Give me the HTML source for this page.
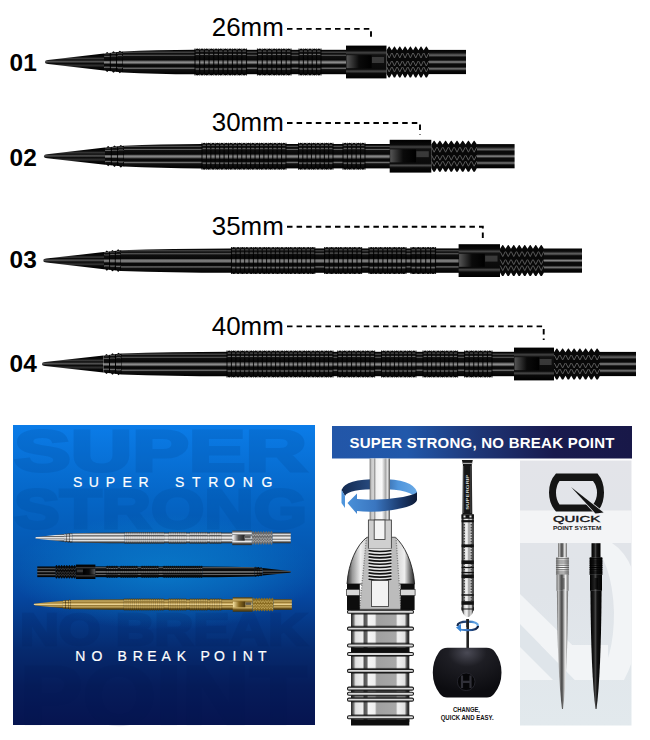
<!DOCTYPE html>
<html><head><meta charset="utf-8"><style>
html,body{margin:0;padding:0;background:#fff;}
#root{position:relative;width:650px;height:740px;overflow:hidden;background:#fff;font-family:"Liberation Sans",sans-serif;}
svg{position:absolute;left:0;top:0;display:block;}
text{font-family:"Liberation Sans",sans-serif;}
</style></head><body><div id="root">
<svg width="650" height="740" viewBox="0 0 650 740"><defs><linearGradient id="gBlk" x1="0" y1="0" x2="0" y2="1"><stop offset="0" stop-color="#000"/><stop offset="0.05" stop-color="#0a0a0a"/><stop offset="0.1" stop-color="#505050"/><stop offset="0.14" stop-color="#0d0d0d"/><stop offset="0.19" stop-color="#1a1a1a"/><stop offset="0.22" stop-color="#6a6a6a"/><stop offset="0.26" stop-color="#101010"/><stop offset="0.42" stop-color="#080808"/><stop offset="0.46" stop-color="#606060"/><stop offset="0.52" stop-color="#8a8a8a"/><stop offset="0.57" stop-color="#505050"/><stop offset="0.61" stop-color="#080808"/><stop offset="0.7" stop-color="#0a0a0a"/><stop offset="0.76" stop-color="#707070"/><stop offset="0.81" stop-color="#111"/><stop offset="0.9" stop-color="#0a0a0a"/><stop offset="1" stop-color="#000"/></linearGradient>
<linearGradient id="gCone" x1="0" y1="0" x2="0" y2="1"><stop offset="0" stop-color="#000"/><stop offset="0.2" stop-color="#0a0a0a"/><stop offset="0.3" stop-color="#3a3a3a"/><stop offset="0.38" stop-color="#0a0a0a"/><stop offset="0.48" stop-color="#555"/><stop offset="0.58" stop-color="#0a0a0a"/><stop offset="0.72" stop-color="#333"/><stop offset="0.8" stop-color="#0a0a0a"/><stop offset="1" stop-color="#000"/></linearGradient>
<linearGradient id="gCol" x1="0" y1="0" x2="0" y2="1"><stop offset="0" stop-color="#000"/><stop offset="0.15" stop-color="#0a0a0a"/><stop offset="0.22" stop-color="#444"/><stop offset="0.28" stop-color="#111"/><stop offset="0.72" stop-color="#0a0a0a"/><stop offset="0.78" stop-color="#4a4a4a"/><stop offset="0.85" stop-color="#0a0a0a"/><stop offset="1" stop-color="#000"/></linearGradient>
<linearGradient id="gWin" x1="0" y1="0" x2="1" y2="0"><stop offset="0" stop-color="#555"/><stop offset="0.5" stop-color="#0a0a0a"/><stop offset="1" stop-color="#000"/></linearGradient>
<linearGradient id="gShaft" x1="0" y1="0" x2="0" y2="1"><stop offset="0" stop-color="#000"/><stop offset="0.12" stop-color="#111"/><stop offset="0.22" stop-color="#666"/><stop offset="0.3" stop-color="#0a0a0a"/><stop offset="0.42" stop-color="#0a0a0a"/><stop offset="0.5" stop-color="#8a8a8a"/><stop offset="0.58" stop-color="#0a0a0a"/><stop offset="0.7" stop-color="#0a0a0a"/><stop offset="0.78" stop-color="#777"/><stop offset="0.86" stop-color="#0a0a0a"/><stop offset="1" stop-color="#000"/></linearGradient>
<linearGradient id="gSilH" x1="0" y1="0" x2="0" y2="1"><stop offset="0" stop-color="#333"/><stop offset="0.1" stop-color="#8a8a8a"/><stop offset="0.2" stop-color="#f0f0f0"/><stop offset="0.3" stop-color="#5a5a5a"/><stop offset="0.42" stop-color="#d8d8d8"/><stop offset="0.52" stop-color="#fff"/><stop offset="0.62" stop-color="#6a6a6a"/><stop offset="0.75" stop-color="#e8e8e8"/><stop offset="0.88" stop-color="#555"/><stop offset="1" stop-color="#222"/></linearGradient>
<linearGradient id="gGoldH" x1="0" y1="0" x2="0" y2="1"><stop offset="0" stop-color="#4a3810"/><stop offset="0.08" stop-color="#8a7030"/><stop offset="0.18" stop-color="#d8bc70"/><stop offset="0.28" stop-color="#8a6c28"/><stop offset="0.38" stop-color="#c4a458"/><stop offset="0.5" stop-color="#e8d090"/><stop offset="0.6" stop-color="#927530"/><stop offset="0.72" stop-color="#ccb068"/><stop offset="0.85" stop-color="#70561c"/><stop offset="1" stop-color="#3e300c"/></linearGradient>
<linearGradient id="gSilW" x1="0" y1="0" x2="1" y2="0"><stop offset="0" stop-color="#fff"/><stop offset="0.5" stop-color="#555"/><stop offset="1" stop-color="#222"/></linearGradient>
<linearGradient id="gGoldW" x1="0" y1="0" x2="1" y2="0"><stop offset="0" stop-color="#f5e0a0"/><stop offset="0.5" stop-color="#8a6a20"/><stop offset="1" stop-color="#4a360e"/></linearGradient>
<linearGradient id="gBlue" x1="0" y1="0" x2="0" y2="1">
<stop offset="0" stop-color="#0b7ce8"/><stop offset="0.25" stop-color="#0565c5"/><stop offset="0.42" stop-color="#0558b2"/>
<stop offset="0.57" stop-color="#0547a0"/><stop offset="0.75" stop-color="#062a6e"/><stop offset="0.87" stop-color="#061c5a"/><stop offset="1" stop-color="#061450"/></linearGradient>
<radialGradient id="gGlow" cx="0.5" cy="0.5" r="0.5"><stop offset="0" stop-color="#0a8cd8" stop-opacity="0.65"/><stop offset="0.55" stop-color="#0a8cd8" stop-opacity="0.35"/><stop offset="1" stop-color="#0a8cd8" stop-opacity="0"/></radialGradient>
<linearGradient id="gHdr" x1="0" y1="0" x2="1" y2="0">
<stop offset="0" stop-color="#2256a8"/><stop offset="0.25" stop-color="#2158aa"/><stop offset="0.48" stop-color="#1e3778"/><stop offset="0.74" stop-color="#191a4e"/><stop offset="1" stop-color="#181848"/></linearGradient>
<linearGradient id="gGray" x1="0" y1="0" x2="0" y2="1"><stop offset="0" stop-color="#e3e4e9"/><stop offset="0.5" stop-color="#e0e4e9"/><stop offset="1" stop-color="#e2e9ed"/></linearGradient>
<clipPath id="cGray"><rect x="520" y="460.5" width="111.5" height="265"/></clipPath>
<linearGradient id="gSil" x1="0" y1="0" x2="1" y2="0"><stop offset="0" stop-color="#666"/><stop offset="0.15" stop-color="#bbb"/><stop offset="0.3" stop-color="#777"/><stop offset="0.45" stop-color="#444"/><stop offset="0.6" stop-color="#999"/><stop offset="0.75" stop-color="#eee"/><stop offset="1" stop-color="#666"/></linearGradient>
<linearGradient id="gSilT" x1="0" y1="0" x2="1" y2="0"><stop offset="0" stop-color="#777"/><stop offset="0.3" stop-color="#eee"/><stop offset="0.6" stop-color="#fafafa"/><stop offset="1" stop-color="#888"/></linearGradient>
<linearGradient id="gBlkV" x1="0" y1="0" x2="1" y2="0"><stop offset="0" stop-color="#000"/><stop offset="0.3" stop-color="#1a1a1a"/><stop offset="0.45" stop-color="#444"/><stop offset="0.6" stop-color="#111"/><stop offset="1" stop-color="#000"/></linearGradient>
<linearGradient id="gRod" x1="0" y1="0" x2="1" y2="0"><stop offset="0" stop-color="#555"/><stop offset="0.06" stop-color="#bbb"/><stop offset="0.18" stop-color="#d8d8d8"/><stop offset="0.24" stop-color="#999"/><stop offset="0.32" stop-color="#f0f0f0"/><stop offset="0.6" stop-color="#fafafa"/><stop offset="0.7" stop-color="#ccc"/><stop offset="0.78" stop-color="#aaa"/><stop offset="0.88" stop-color="#e0e0e0"/><stop offset="1" stop-color="#555"/></linearGradient>
<linearGradient id="gArrBack" x1="0" y1="0" x2="1" y2="0"><stop offset="0" stop-color="#13294f"/><stop offset="0.45" stop-color="#2a4f86"/><stop offset="0.75" stop-color="#4f95dc"/><stop offset="1" stop-color="#6aaae6"/></linearGradient>
<linearGradient id="gArrFront" x1="0" y1="0" x2="1" y2="0"><stop offset="0" stop-color="#4a90d8"/><stop offset="0.4" stop-color="#3a76c0"/><stop offset="0.75" stop-color="#1c3c70"/><stop offset="1" stop-color="#0d1a36"/></linearGradient>
<linearGradient id="gBar" x1="0" y1="0" x2="1" y2="0"><stop offset="0" stop-color="#222"/><stop offset="0.04" stop-color="#666"/><stop offset="0.08" stop-color="#e0e0e0"/><stop offset="0.2" stop-color="#eee"/><stop offset="0.23" stop-color="#555"/><stop offset="0.27" stop-color="#666"/><stop offset="0.3" stop-color="#f5f5f5"/><stop offset="0.41" stop-color="#eee"/><stop offset="0.44" stop-color="#a0a0a0"/><stop offset="0.77" stop-color="#a8a8a8"/><stop offset="0.8" stop-color="#f2f2f2"/><stop offset="0.92" stop-color="#e0e0e0"/><stop offset="0.96" stop-color="#444"/><stop offset="1" stop-color="#222"/></linearGradient>
<linearGradient id="gNose" x1="0" y1="0" x2="1" y2="0"><stop offset="0" stop-color="#333"/><stop offset="0.08" stop-color="#999"/><stop offset="0.2" stop-color="#eee"/><stop offset="0.3" stop-color="#ccc"/><stop offset="0.7" stop-color="#ccc"/><stop offset="0.85" stop-color="#eee"/><stop offset="0.93" stop-color="#777"/><stop offset="1" stop-color="#222"/></linearGradient>
<linearGradient id="gSB" x1="0" y1="0" x2="1" y2="0"><stop offset="0" stop-color="#111"/><stop offset="0.12" stop-color="#444"/><stop offset="0.25" stop-color="#ddd"/><stop offset="0.45" stop-color="#f5f5f5"/><stop offset="0.6" stop-color="#999"/><stop offset="0.78" stop-color="#ddd"/><stop offset="0.9" stop-color="#444"/><stop offset="1" stop-color="#111"/></linearGradient>
<radialGradient id="gTool" cx="0.5" cy="0.1" r="0.8"><stop offset="0" stop-color="#4a4a55"/><stop offset="0.35" stop-color="#1e1e24"/><stop offset="1" stop-color="#0c0c10"/></radialGradient>
<clipPath id="cTool"><rect x="420" y="647.8" width="100" height="49.7" rx="0"/></clipPath></defs>
<path d="M45 62 C45 60.4 46.5 60.2 48 60 L104 53.4 L104 70.6 L48 64 C46.5 63.8 45 63.6 45 62Z" fill="url(#gCone)"/>
<path d="M104 53.4 L123 51.6 L123 72.4 L104 70.6Z" fill="url(#gBlk)"/>
<ellipse cx="107.17" cy="62" rx="2.71" ry="10.1" fill="url(#gBlk)"/>
<rect x="109.83" y="53.1" width="1" height="17.8" fill="#000"/>
<ellipse cx="113.5" cy="62" rx="2.71" ry="10.7" fill="url(#gBlk)"/>
<rect x="116.17" y="52.5" width="1" height="19" fill="#000"/>
<ellipse cx="119.83" cy="62" rx="2.71" ry="11.3" fill="url(#gBlk)"/>
<rect x="122.5" y="51.9" width="1" height="20.2" fill="#000"/>
<path d="M123 51.6 Q155.4 49.8 195 49.8 L195 74.2 Q155.4 74.2 123 72.4Z" fill="url(#gBlk)"/>
<rect x="194.4" y="49.8" width="152.2" height="24.4" fill="url(#gBlk)"/>
<rect x="195.3" y="48.5" width="4.08" height="27" rx="2.34" ry="2.2" fill="url(#gBlk)"/><rect x="199.98" y="48.5" width="4.08" height="27" rx="2.34" ry="2.2" fill="url(#gBlk)"/><rect x="204.66" y="48.5" width="4.08" height="27" rx="2.34" ry="2.2" fill="url(#gBlk)"/><rect x="209.35" y="48.5" width="4.08" height="27" rx="2.34" ry="2.2" fill="url(#gBlk)"/><rect x="214.03" y="48.5" width="4.08" height="27" rx="2.34" ry="2.2" fill="url(#gBlk)"/><rect x="218.71" y="48.5" width="4.08" height="27" rx="2.34" ry="2.2" fill="url(#gBlk)"/><rect x="223.39" y="48.5" width="4.08" height="27" rx="2.34" ry="2.2" fill="url(#gBlk)"/><rect x="228.07" y="48.5" width="4.08" height="27" rx="2.34" ry="2.2" fill="url(#gBlk)"/><rect x="232.75" y="48.5" width="4.08" height="27" rx="2.34" ry="2.2" fill="url(#gBlk)"/><rect x="237.44" y="48.5" width="4.08" height="27" rx="2.34" ry="2.2" fill="url(#gBlk)"/><rect x="242.12" y="48.5" width="4.08" height="27" rx="2.34" ry="2.2" fill="url(#gBlk)"/>
<path d="M195 48.5 V75.5 M199.68 48.5 V75.5 M204.36 48.5 V75.5 M209.05 48.5 V75.5 M213.73 48.5 V75.5 M218.41 48.5 V75.5 M223.09 48.5 V75.5 M227.77 48.5 V75.5 M232.45 48.5 V75.5 M237.14 48.5 V75.5 M241.82 48.5 V75.5 M246.5 48.5 V75.5" stroke="#000" stroke-width="1.12" opacity="0.85"/>
<rect x="257.8" y="48.5" width="4.19" height="27" rx="2.39" ry="2.2" fill="url(#gBlk)"/><rect x="262.59" y="48.5" width="4.19" height="27" rx="2.39" ry="2.2" fill="url(#gBlk)"/><rect x="267.37" y="48.5" width="4.19" height="27" rx="2.39" ry="2.2" fill="url(#gBlk)"/><rect x="272.16" y="48.5" width="4.19" height="27" rx="2.39" ry="2.2" fill="url(#gBlk)"/><rect x="276.94" y="48.5" width="4.19" height="27" rx="2.39" ry="2.2" fill="url(#gBlk)"/><rect x="281.73" y="48.5" width="4.19" height="27" rx="2.39" ry="2.2" fill="url(#gBlk)"/><rect x="286.51" y="48.5" width="4.19" height="27" rx="2.39" ry="2.2" fill="url(#gBlk)"/>
<path d="M257.5 48.5 V75.5 M262.29 48.5 V75.5 M267.07 48.5 V75.5 M271.86 48.5 V75.5 M276.64 48.5 V75.5 M281.43 48.5 V75.5 M286.21 48.5 V75.5 M291 48.5 V75.5" stroke="#000" stroke-width="1.15" opacity="0.85"/>
<rect x="299.3" y="48.5" width="3.8" height="27" rx="2.2" ry="2.2" fill="url(#gBlk)"/><rect x="303.7" y="48.5" width="3.8" height="27" rx="2.2" ry="2.2" fill="url(#gBlk)"/><rect x="308.1" y="48.5" width="3.8" height="27" rx="2.2" ry="2.2" fill="url(#gBlk)"/><rect x="312.5" y="48.5" width="3.8" height="27" rx="2.2" ry="2.2" fill="url(#gBlk)"/><rect x="316.9" y="48.5" width="3.8" height="27" rx="2.2" ry="2.2" fill="url(#gBlk)"/>
<path d="M299 48.5 V75.5 M303.4 48.5 V75.5 M307.8 48.5 V75.5 M312.2 48.5 V75.5 M316.6 48.5 V75.5 M321 48.5 V75.5" stroke="#000" stroke-width="1.06" opacity="0.85"/>
<rect x="346" y="45.6" width="40.5" height="32.8" fill="url(#gCol)"/>
<rect x="346.5" y="55.2" width="25.11" height="13" fill="url(#gWin)"/>
<rect x="371.92" y="57" width="12.15" height="6" fill="#444" opacity="0.8"/>
<path d="M386.5 50.2 L388.89 46.5 L389.42 46.5 L391.81 50.2 L394.2 46.5 L394.73 46.5 L397.12 50.2 L399.52 46.5 L400.05 46.5 L402.44 50.2 L404.83 46.5 L405.36 46.5 L407.75 50.2 L410.14 46.5 L410.67 46.5 L413.06 50.2 L415.45 46.5 L415.98 46.5 L418.38 50.2 L420.77 46.5 L421.3 46.5 L423.69 50.2 L426.08 46.5 L426.61 46.5 L429 50.2 L429 73.8 L426.98 77.5 L425.71 77.5 L423.69 73.8 L421.67 77.5 L420.39 77.5 L418.38 73.8 L416.36 77.5 L415.08 77.5 L413.06 73.8 L411.04 77.5 L409.77 77.5 L407.75 73.8 L405.73 77.5 L404.46 77.5 L402.44 73.8 L400.42 77.5 L399.14 77.5 L397.12 73.8 L395.11 77.5 L393.83 77.5 L391.81 73.8 L389.79 77.5 L388.52 77.5 L386.5 73.8Z" fill="#080808"/>
<path d="M386.77 53 L389.16 58 L391.55 53 M386.77 61 L389.16 66 L391.55 61 M386.77 67 L389.16 72 L391.55 67 M392.08 53 L394.47 58 L396.86 53 M392.08 61 L394.47 66 L396.86 61 M392.08 67 L394.47 72 L396.86 67 M397.39 53 L399.78 58 L402.17 53 M397.39 61 L399.78 66 L402.17 61 M397.39 67 L399.78 72 L402.17 67 M402.7 53 L405.09 58 L407.48 53 M402.7 61 L405.09 66 L407.48 61 M402.7 67 L405.09 72 L407.48 67 M408.02 53 L410.41 58 L412.8 53 M408.02 61 L410.41 66 L412.8 61 M408.02 67 L410.41 72 L412.8 67 M413.33 53 L415.72 58 L418.11 53 M413.33 61 L415.72 66 L418.11 61 M413.33 67 L415.72 72 L418.11 67 M418.64 53 L421.03 58 L423.42 53 M418.64 61 L421.03 66 L423.42 61 M418.64 67 L421.03 72 L423.42 67 M423.95 53 L426.34 58 L428.73 53 M423.95 61 L426.34 66 L428.73 61 M423.95 67 L426.34 72 L428.73 67 " stroke="#5a5a5a" stroke-width="1" fill="none"/>
<rect x="429" y="49.9" width="37" height="24.2" fill="url(#gShaft)"/>
<path d="M287 28.9 H371 V39.7" stroke="#000" stroke-width="1.9" stroke-dasharray="5.5 4.1" fill="none"/>
<text x="9.6" y="70.9" font-family="Liberation Sans" font-weight="bold" font-size="24.4" textLength="27.2" lengthAdjust="spacingAndGlyphs">01</text>
<text x="211.8" y="36" font-family="Liberation Sans" font-size="25.2" textLength="72" lengthAdjust="spacingAndGlyphs">26mm</text>
<path d="M44 156.2 C44 154.6 45.5 154.4 47 154.2 L105 147.6 L105 164.8 L47 158.2 C45.5 158 44 157.8 44 156.2Z" fill="url(#gCone)"/>
<path d="M105 147.6 L124 145.8 L124 166.6 L105 164.8Z" fill="url(#gBlk)"/>
<ellipse cx="108.17" cy="156.2" rx="2.71" ry="10.1" fill="url(#gBlk)"/>
<rect x="110.83" y="147.3" width="1" height="17.8" fill="#000"/>
<ellipse cx="114.5" cy="156.2" rx="2.71" ry="10.7" fill="url(#gBlk)"/>
<rect x="117.17" y="146.7" width="1" height="19" fill="#000"/>
<ellipse cx="120.83" cy="156.2" rx="2.71" ry="11.3" fill="url(#gBlk)"/>
<rect x="123.5" y="146.1" width="1" height="20.2" fill="#000"/>
<path d="M124 145.8 Q159.1 144 202 144 L202 168.4 Q159.1 168.4 124 166.6Z" fill="url(#gBlk)"/>
<rect x="201.4" y="144" width="188.9" height="24.4" fill="url(#gBlk)"/>
<rect x="202.3" y="142.7" width="3.82" height="27" rx="2.21" ry="2.2" fill="url(#gBlk)"/><rect x="206.72" y="142.7" width="3.82" height="27" rx="2.21" ry="2.2" fill="url(#gBlk)"/><rect x="211.14" y="142.7" width="3.82" height="27" rx="2.21" ry="2.2" fill="url(#gBlk)"/><rect x="215.56" y="142.7" width="3.82" height="27" rx="2.21" ry="2.2" fill="url(#gBlk)"/><rect x="219.98" y="142.7" width="3.82" height="27" rx="2.21" ry="2.2" fill="url(#gBlk)"/><rect x="224.41" y="142.7" width="3.82" height="27" rx="2.21" ry="2.2" fill="url(#gBlk)"/><rect x="228.83" y="142.7" width="3.82" height="27" rx="2.21" ry="2.2" fill="url(#gBlk)"/><rect x="233.25" y="142.7" width="3.82" height="27" rx="2.21" ry="2.2" fill="url(#gBlk)"/><rect x="237.67" y="142.7" width="3.82" height="27" rx="2.21" ry="2.2" fill="url(#gBlk)"/><rect x="242.09" y="142.7" width="3.82" height="27" rx="2.21" ry="2.2" fill="url(#gBlk)"/><rect x="246.51" y="142.7" width="3.82" height="27" rx="2.21" ry="2.2" fill="url(#gBlk)"/><rect x="250.93" y="142.7" width="3.82" height="27" rx="2.21" ry="2.2" fill="url(#gBlk)"/><rect x="255.35" y="142.7" width="3.82" height="27" rx="2.21" ry="2.2" fill="url(#gBlk)"/><rect x="259.77" y="142.7" width="3.82" height="27" rx="2.21" ry="2.2" fill="url(#gBlk)"/><rect x="264.19" y="142.7" width="3.82" height="27" rx="2.21" ry="2.2" fill="url(#gBlk)"/><rect x="268.62" y="142.7" width="3.82" height="27" rx="2.21" ry="2.2" fill="url(#gBlk)"/><rect x="273.04" y="142.7" width="3.82" height="27" rx="2.21" ry="2.2" fill="url(#gBlk)"/><rect x="277.46" y="142.7" width="3.82" height="27" rx="2.21" ry="2.2" fill="url(#gBlk)"/><rect x="281.88" y="142.7" width="3.82" height="27" rx="2.21" ry="2.2" fill="url(#gBlk)"/>
<path d="M202 142.7 V169.7 M206.42 142.7 V169.7 M210.84 142.7 V169.7 M215.26 142.7 V169.7 M219.68 142.7 V169.7 M224.11 142.7 V169.7 M228.53 142.7 V169.7 M232.95 142.7 V169.7 M237.37 142.7 V169.7 M241.79 142.7 V169.7 M246.21 142.7 V169.7 M250.63 142.7 V169.7 M255.05 142.7 V169.7 M259.47 142.7 V169.7 M263.89 142.7 V169.7 M268.32 142.7 V169.7 M272.74 142.7 V169.7 M277.16 142.7 V169.7 M281.58 142.7 V169.7 M286 142.7 V169.7" stroke="#000" stroke-width="1.06" opacity="0.85"/>
<rect x="298.8" y="142.7" width="3.71" height="27" rx="2.16" ry="2.2" fill="url(#gBlk)"/><rect x="303.11" y="142.7" width="3.71" height="27" rx="2.16" ry="2.2" fill="url(#gBlk)"/><rect x="307.43" y="142.7" width="3.71" height="27" rx="2.16" ry="2.2" fill="url(#gBlk)"/><rect x="311.74" y="142.7" width="3.71" height="27" rx="2.16" ry="2.2" fill="url(#gBlk)"/><rect x="316.05" y="142.7" width="3.71" height="27" rx="2.16" ry="2.2" fill="url(#gBlk)"/><rect x="320.36" y="142.7" width="3.71" height="27" rx="2.16" ry="2.2" fill="url(#gBlk)"/><rect x="324.68" y="142.7" width="3.71" height="27" rx="2.16" ry="2.2" fill="url(#gBlk)"/><rect x="328.99" y="142.7" width="3.71" height="27" rx="2.16" ry="2.2" fill="url(#gBlk)"/>
<path d="M298.5 142.7 V169.7 M302.81 142.7 V169.7 M307.12 142.7 V169.7 M311.44 142.7 V169.7 M315.75 142.7 V169.7 M320.06 142.7 V169.7 M324.38 142.7 V169.7 M328.69 142.7 V169.7 M333 142.7 V169.7" stroke="#000" stroke-width="1.03" opacity="0.85"/>
<rect x="343.3" y="142.7" width="3.8" height="27" rx="2.2" ry="2.2" fill="url(#gBlk)"/><rect x="347.7" y="142.7" width="3.8" height="27" rx="2.2" ry="2.2" fill="url(#gBlk)"/><rect x="352.1" y="142.7" width="3.8" height="27" rx="2.2" ry="2.2" fill="url(#gBlk)"/><rect x="356.5" y="142.7" width="3.8" height="27" rx="2.2" ry="2.2" fill="url(#gBlk)"/><rect x="360.9" y="142.7" width="3.8" height="27" rx="2.2" ry="2.2" fill="url(#gBlk)"/>
<path d="M343 142.7 V169.7 M347.4 142.7 V169.7 M351.8 142.7 V169.7 M356.2 142.7 V169.7 M360.6 142.7 V169.7 M365 142.7 V169.7" stroke="#000" stroke-width="1.06" opacity="0.85"/>
<rect x="389.7" y="139.8" width="41.6" height="32.8" fill="url(#gCol)"/>
<rect x="390.2" y="149.4" width="25.79" height="13" fill="url(#gWin)"/>
<rect x="416.32" y="151.2" width="12.48" height="6" fill="#444" opacity="0.8"/>
<path d="M431.3 144.4 L433.87 140.7 L434.44 140.7 L437.01 144.4 L439.58 140.7 L440.15 140.7 L442.72 144.4 L445.3 140.7 L445.87 140.7 L448.44 144.4 L451.01 140.7 L451.58 140.7 L454.15 144.4 L456.72 140.7 L457.29 140.7 L459.86 144.4 L462.43 140.7 L463 140.7 L465.57 144.4 L468.15 140.7 L468.72 140.7 L471.29 144.4 L473.86 140.7 L474.43 140.7 L477 144.4 L477 168 L474.83 171.7 L473.46 171.7 L471.29 168 L469.12 171.7 L467.75 171.7 L465.58 168 L463.4 171.7 L462.03 171.7 L459.86 168 L457.69 171.7 L456.32 171.7 L454.15 168 L451.98 171.7 L450.61 171.7 L448.44 168 L446.27 171.7 L444.9 171.7 L442.73 168 L440.55 171.7 L439.18 171.7 L437.01 168 L434.84 171.7 L433.47 171.7 L431.3 168Z" fill="#080808"/>
<path d="M431.59 147.2 L434.16 152.2 L436.73 147.2 M431.59 155.2 L434.16 160.2 L436.73 155.2 M431.59 161.2 L434.16 166.2 L436.73 161.2 M437.3 147.2 L439.87 152.2 L442.44 147.2 M437.3 155.2 L439.87 160.2 L442.44 155.2 M437.3 161.2 L439.87 166.2 L442.44 161.2 M443.01 147.2 L445.58 152.2 L448.15 147.2 M443.01 155.2 L445.58 160.2 L448.15 155.2 M443.01 161.2 L445.58 166.2 L448.15 161.2 M448.72 147.2 L451.29 152.2 L453.86 147.2 M448.72 155.2 L451.29 160.2 L453.86 155.2 M448.72 161.2 L451.29 166.2 L453.86 161.2 M454.44 147.2 L457.01 152.2 L459.58 147.2 M454.44 155.2 L457.01 160.2 L459.58 155.2 M454.44 161.2 L457.01 166.2 L459.58 161.2 M460.15 147.2 L462.72 152.2 L465.29 147.2 M460.15 155.2 L462.72 160.2 L465.29 155.2 M460.15 161.2 L462.72 166.2 L465.29 161.2 M465.86 147.2 L468.43 152.2 L471 147.2 M465.86 155.2 L468.43 160.2 L471 155.2 M465.86 161.2 L468.43 166.2 L471 161.2 M471.57 147.2 L474.14 152.2 L476.71 147.2 M471.57 155.2 L474.14 160.2 L476.71 155.2 M471.57 161.2 L474.14 166.2 L476.71 161.2 " stroke="#5a5a5a" stroke-width="1" fill="none"/>
<rect x="477" y="144.1" width="37.6" height="24.2" fill="url(#gShaft)"/>
<path d="M287 123 H420 V134.6" stroke="#000" stroke-width="1.9" stroke-dasharray="5.5 4.1" fill="none"/>
<text x="9.6" y="165.9" font-family="Liberation Sans" font-weight="bold" font-size="24.4" textLength="27.2" lengthAdjust="spacingAndGlyphs">02</text>
<text x="211.8" y="130.8" font-family="Liberation Sans" font-size="25.2" textLength="72" lengthAdjust="spacingAndGlyphs">30mm</text>
<path d="M43.3 260.6 C43.3 259 44.8 258.8 46.3 258.6 L104 252 L104 269.2 L46.3 262.6 C44.8 262.4 43.3 262.2 43.3 260.6Z" fill="url(#gCone)"/>
<path d="M104 252 L121 250.2 L121 271 L104 269.2Z" fill="url(#gBlk)"/>
<ellipse cx="106.83" cy="260.6" rx="2.43" ry="10.1" fill="url(#gBlk)"/>
<rect x="109.17" y="251.7" width="1" height="17.8" fill="#000"/>
<ellipse cx="112.5" cy="260.6" rx="2.43" ry="10.7" fill="url(#gBlk)"/>
<rect x="114.83" y="251.1" width="1" height="19" fill="#000"/>
<ellipse cx="118.17" cy="260.6" rx="2.43" ry="11.3" fill="url(#gBlk)"/>
<rect x="120.5" y="250.5" width="1" height="20.2" fill="#000"/>
<path d="M121 250.2 Q170.72 248.4 231.5 248.4 L231.5 272.8 Q170.72 272.8 121 271Z" fill="url(#gBlk)"/>
<rect x="230.9" y="248.4" width="228.3" height="24.4" fill="url(#gBlk)"/>
<rect x="231.8" y="247.1" width="3.78" height="27" rx="2.19" ry="2.2" fill="url(#gBlk)"/><rect x="236.18" y="247.1" width="3.78" height="27" rx="2.19" ry="2.2" fill="url(#gBlk)"/><rect x="240.57" y="247.1" width="3.78" height="27" rx="2.19" ry="2.2" fill="url(#gBlk)"/><rect x="244.95" y="247.1" width="3.78" height="27" rx="2.19" ry="2.2" fill="url(#gBlk)"/><rect x="249.34" y="247.1" width="3.78" height="27" rx="2.19" ry="2.2" fill="url(#gBlk)"/><rect x="253.72" y="247.1" width="3.78" height="27" rx="2.19" ry="2.2" fill="url(#gBlk)"/><rect x="258.11" y="247.1" width="3.78" height="27" rx="2.19" ry="2.2" fill="url(#gBlk)"/><rect x="262.49" y="247.1" width="3.78" height="27" rx="2.19" ry="2.2" fill="url(#gBlk)"/><rect x="266.87" y="247.1" width="3.78" height="27" rx="2.19" ry="2.2" fill="url(#gBlk)"/><rect x="271.26" y="247.1" width="3.78" height="27" rx="2.19" ry="2.2" fill="url(#gBlk)"/><rect x="275.64" y="247.1" width="3.78" height="27" rx="2.19" ry="2.2" fill="url(#gBlk)"/><rect x="280.03" y="247.1" width="3.78" height="27" rx="2.19" ry="2.2" fill="url(#gBlk)"/><rect x="284.41" y="247.1" width="3.78" height="27" rx="2.19" ry="2.2" fill="url(#gBlk)"/><rect x="288.79" y="247.1" width="3.78" height="27" rx="2.19" ry="2.2" fill="url(#gBlk)"/><rect x="293.18" y="247.1" width="3.78" height="27" rx="2.19" ry="2.2" fill="url(#gBlk)"/><rect x="297.56" y="247.1" width="3.78" height="27" rx="2.19" ry="2.2" fill="url(#gBlk)"/><rect x="301.95" y="247.1" width="3.78" height="27" rx="2.19" ry="2.2" fill="url(#gBlk)"/><rect x="306.33" y="247.1" width="3.78" height="27" rx="2.19" ry="2.2" fill="url(#gBlk)"/><rect x="310.72" y="247.1" width="3.78" height="27" rx="2.19" ry="2.2" fill="url(#gBlk)"/>
<path d="M231.5 247.1 V274.1 M235.88 247.1 V274.1 M240.27 247.1 V274.1 M244.65 247.1 V274.1 M249.04 247.1 V274.1 M253.42 247.1 V274.1 M257.81 247.1 V274.1 M262.19 247.1 V274.1 M266.57 247.1 V274.1 M270.96 247.1 V274.1 M275.34 247.1 V274.1 M279.73 247.1 V274.1 M284.11 247.1 V274.1 M288.49 247.1 V274.1 M292.88 247.1 V274.1 M297.26 247.1 V274.1 M301.65 247.1 V274.1 M306.03 247.1 V274.1 M310.42 247.1 V274.1 M314.8 247.1 V274.1" stroke="#000" stroke-width="1.05" opacity="0.85"/>
<rect x="324.9" y="247.1" width="4.03" height="27" rx="2.31" ry="2.2" fill="url(#gBlk)"/><rect x="329.53" y="247.1" width="4.03" height="27" rx="2.31" ry="2.2" fill="url(#gBlk)"/><rect x="334.15" y="247.1" width="4.03" height="27" rx="2.31" ry="2.2" fill="url(#gBlk)"/><rect x="338.78" y="247.1" width="4.03" height="27" rx="2.31" ry="2.2" fill="url(#gBlk)"/><rect x="343.4" y="247.1" width="4.03" height="27" rx="2.31" ry="2.2" fill="url(#gBlk)"/><rect x="348.03" y="247.1" width="4.03" height="27" rx="2.31" ry="2.2" fill="url(#gBlk)"/><rect x="352.65" y="247.1" width="4.03" height="27" rx="2.31" ry="2.2" fill="url(#gBlk)"/><rect x="357.28" y="247.1" width="4.03" height="27" rx="2.31" ry="2.2" fill="url(#gBlk)"/>
<path d="M324.6 247.1 V274.1 M329.23 247.1 V274.1 M333.85 247.1 V274.1 M338.48 247.1 V274.1 M343.1 247.1 V274.1 M347.73 247.1 V274.1 M352.35 247.1 V274.1 M356.98 247.1 V274.1 M361.6 247.1 V274.1" stroke="#000" stroke-width="1.11" opacity="0.85"/>
<rect x="369.3" y="247.1" width="4.03" height="27" rx="2.31" ry="2.2" fill="url(#gBlk)"/><rect x="373.93" y="247.1" width="4.03" height="27" rx="2.31" ry="2.2" fill="url(#gBlk)"/><rect x="378.55" y="247.1" width="4.03" height="27" rx="2.31" ry="2.2" fill="url(#gBlk)"/><rect x="383.18" y="247.1" width="4.03" height="27" rx="2.31" ry="2.2" fill="url(#gBlk)"/><rect x="387.8" y="247.1" width="4.03" height="27" rx="2.31" ry="2.2" fill="url(#gBlk)"/><rect x="392.43" y="247.1" width="4.03" height="27" rx="2.31" ry="2.2" fill="url(#gBlk)"/><rect x="397.05" y="247.1" width="4.03" height="27" rx="2.31" ry="2.2" fill="url(#gBlk)"/><rect x="401.68" y="247.1" width="4.03" height="27" rx="2.31" ry="2.2" fill="url(#gBlk)"/>
<path d="M369 247.1 V274.1 M373.62 247.1 V274.1 M378.25 247.1 V274.1 M382.88 247.1 V274.1 M387.5 247.1 V274.1 M392.12 247.1 V274.1 M396.75 247.1 V274.1 M401.38 247.1 V274.1 M406 247.1 V274.1" stroke="#000" stroke-width="1.11" opacity="0.85"/>
<rect x="411.3" y="247.1" width="4.3" height="27" rx="2.45" ry="2.2" fill="url(#gBlk)"/><rect x="416.2" y="247.1" width="4.3" height="27" rx="2.45" ry="2.2" fill="url(#gBlk)"/><rect x="421.1" y="247.1" width="4.3" height="27" rx="2.45" ry="2.2" fill="url(#gBlk)"/><rect x="426" y="247.1" width="4.3" height="27" rx="2.45" ry="2.2" fill="url(#gBlk)"/><rect x="430.9" y="247.1" width="4.3" height="27" rx="2.45" ry="2.2" fill="url(#gBlk)"/>
<path d="M411 247.1 V274.1 M415.9 247.1 V274.1 M420.8 247.1 V274.1 M425.7 247.1 V274.1 M430.6 247.1 V274.1 M435.5 247.1 V274.1" stroke="#000" stroke-width="1.18" opacity="0.85"/>
<rect x="458.6" y="244.2" width="41.4" height="32.8" fill="url(#gCol)"/>
<rect x="459.1" y="253.8" width="25.67" height="13" fill="url(#gWin)"/>
<rect x="485.1" y="255.6" width="12.42" height="6" fill="#444" opacity="0.8"/>
<path d="M500 248.8 L502.48 245.1 L503.02 245.1 L505.5 248.8 L507.98 245.1 L508.52 245.1 L511 248.8 L513.48 245.1 L514.02 245.1 L516.5 248.8 L518.98 245.1 L519.52 245.1 L522 248.8 L524.48 245.1 L525.02 245.1 L527.5 248.8 L529.98 245.1 L530.52 245.1 L533 248.8 L535.48 245.1 L536.02 245.1 L538.5 248.8 L540.98 245.1 L541.52 245.1 L544 248.8 L544 272.4 L541.91 276.1 L540.59 276.1 L538.5 272.4 L536.41 276.1 L535.09 276.1 L533 272.4 L530.91 276.1 L529.59 276.1 L527.5 272.4 L525.41 276.1 L524.09 276.1 L522 272.4 L519.91 276.1 L518.59 276.1 L516.5 272.4 L514.41 276.1 L513.09 276.1 L511 272.4 L508.91 276.1 L507.59 276.1 L505.5 272.4 L503.41 276.1 L502.09 276.1 L500 272.4Z" fill="#080808"/>
<path d="M500.27 251.6 L502.75 256.6 L505.23 251.6 M500.27 259.6 L502.75 264.6 L505.23 259.6 M500.27 265.6 L502.75 270.6 L505.23 265.6 M505.77 251.6 L508.25 256.6 L510.73 251.6 M505.77 259.6 L508.25 264.6 L510.73 259.6 M505.77 265.6 L508.25 270.6 L510.73 265.6 M511.27 251.6 L513.75 256.6 L516.23 251.6 M511.27 259.6 L513.75 264.6 L516.23 259.6 M511.27 265.6 L513.75 270.6 L516.23 265.6 M516.77 251.6 L519.25 256.6 L521.73 251.6 M516.77 259.6 L519.25 264.6 L521.73 259.6 M516.77 265.6 L519.25 270.6 L521.73 265.6 M522.27 251.6 L524.75 256.6 L527.23 251.6 M522.27 259.6 L524.75 264.6 L527.23 259.6 M522.27 265.6 L524.75 270.6 L527.23 265.6 M527.77 251.6 L530.25 256.6 L532.73 251.6 M527.77 259.6 L530.25 264.6 L532.73 259.6 M527.77 265.6 L530.25 270.6 L532.73 265.6 M533.27 251.6 L535.75 256.6 L538.23 251.6 M533.27 259.6 L535.75 264.6 L538.23 259.6 M533.27 265.6 L535.75 270.6 L538.23 265.6 M538.77 251.6 L541.25 256.6 L543.73 251.6 M538.77 259.6 L541.25 264.6 L543.73 259.6 M538.77 265.6 L541.25 270.6 L543.73 265.6 " stroke="#5a5a5a" stroke-width="1" fill="none"/>
<rect x="544" y="248.5" width="38" height="24.2" fill="url(#gShaft)"/>
<path d="M287 226.7 H482.8 V239.6" stroke="#000" stroke-width="1.9" stroke-dasharray="5.5 4.1" fill="none"/>
<text x="9.6" y="268.2" font-family="Liberation Sans" font-weight="bold" font-size="24.4" textLength="27.2" lengthAdjust="spacingAndGlyphs">03</text>
<text x="211.8" y="234.9" font-family="Liberation Sans" font-size="25.2" textLength="72" lengthAdjust="spacingAndGlyphs">35mm</text>
<path d="M42 364 C42 362.4 43.5 362.2 45 362 L103.5 355.4 L103.5 372.6 L45 366 C43.5 365.8 42 365.6 42 364Z" fill="url(#gCone)"/>
<path d="M103.5 355.4 L121.5 353.6 L121.5 374.4 L103.5 372.6Z" fill="url(#gBlk)"/>
<ellipse cx="106.5" cy="364" rx="2.57" ry="10.1" fill="url(#gBlk)"/>
<rect x="109" y="355.1" width="1" height="17.8" fill="#000"/>
<ellipse cx="112.5" cy="364" rx="2.57" ry="10.7" fill="url(#gBlk)"/>
<rect x="115" y="354.5" width="1" height="19" fill="#000"/>
<ellipse cx="118.5" cy="364" rx="2.57" ry="11.3" fill="url(#gBlk)"/>
<rect x="121" y="353.9" width="1" height="20.2" fill="#000"/>
<path d="M121.5 353.6 Q169.88 351.8 229 351.8 L229 376.2 Q169.88 376.2 121.5 374.4Z" fill="url(#gBlk)"/>
<rect x="228.4" y="351.8" width="286.2" height="24.4" fill="url(#gBlk)"/>
<rect x="227.3" y="350.5" width="3.82" height="27" rx="2.21" ry="2.2" fill="url(#gBlk)"/><rect x="231.72" y="350.5" width="3.82" height="27" rx="2.21" ry="2.2" fill="url(#gBlk)"/><rect x="236.13" y="350.5" width="3.82" height="27" rx="2.21" ry="2.2" fill="url(#gBlk)"/><rect x="240.55" y="350.5" width="3.82" height="27" rx="2.21" ry="2.2" fill="url(#gBlk)"/><rect x="244.97" y="350.5" width="3.82" height="27" rx="2.21" ry="2.2" fill="url(#gBlk)"/><rect x="249.38" y="350.5" width="3.82" height="27" rx="2.21" ry="2.2" fill="url(#gBlk)"/><rect x="253.8" y="350.5" width="3.82" height="27" rx="2.21" ry="2.2" fill="url(#gBlk)"/><rect x="258.22" y="350.5" width="3.82" height="27" rx="2.21" ry="2.2" fill="url(#gBlk)"/><rect x="262.63" y="350.5" width="3.82" height="27" rx="2.21" ry="2.2" fill="url(#gBlk)"/><rect x="267.05" y="350.5" width="3.82" height="27" rx="2.21" ry="2.2" fill="url(#gBlk)"/><rect x="271.47" y="350.5" width="3.82" height="27" rx="2.21" ry="2.2" fill="url(#gBlk)"/><rect x="275.88" y="350.5" width="3.82" height="27" rx="2.21" ry="2.2" fill="url(#gBlk)"/><rect x="280.3" y="350.5" width="3.82" height="27" rx="2.21" ry="2.2" fill="url(#gBlk)"/><rect x="284.72" y="350.5" width="3.82" height="27" rx="2.21" ry="2.2" fill="url(#gBlk)"/><rect x="289.13" y="350.5" width="3.82" height="27" rx="2.21" ry="2.2" fill="url(#gBlk)"/><rect x="293.55" y="350.5" width="3.82" height="27" rx="2.21" ry="2.2" fill="url(#gBlk)"/><rect x="297.97" y="350.5" width="3.82" height="27" rx="2.21" ry="2.2" fill="url(#gBlk)"/><rect x="302.38" y="350.5" width="3.82" height="27" rx="2.21" ry="2.2" fill="url(#gBlk)"/><rect x="306.8" y="350.5" width="3.82" height="27" rx="2.21" ry="2.2" fill="url(#gBlk)"/><rect x="311.22" y="350.5" width="3.82" height="27" rx="2.21" ry="2.2" fill="url(#gBlk)"/><rect x="315.63" y="350.5" width="3.82" height="27" rx="2.21" ry="2.2" fill="url(#gBlk)"/><rect x="320.05" y="350.5" width="3.82" height="27" rx="2.21" ry="2.2" fill="url(#gBlk)"/><rect x="324.47" y="350.5" width="3.82" height="27" rx="2.21" ry="2.2" fill="url(#gBlk)"/><rect x="328.88" y="350.5" width="3.82" height="27" rx="2.21" ry="2.2" fill="url(#gBlk)"/>
<path d="M227 350.5 V377.5 M231.42 350.5 V377.5 M235.83 350.5 V377.5 M240.25 350.5 V377.5 M244.67 350.5 V377.5 M249.08 350.5 V377.5 M253.5 350.5 V377.5 M257.92 350.5 V377.5 M262.33 350.5 V377.5 M266.75 350.5 V377.5 M271.17 350.5 V377.5 M275.58 350.5 V377.5 M280 350.5 V377.5 M284.42 350.5 V377.5 M288.83 350.5 V377.5 M293.25 350.5 V377.5 M297.67 350.5 V377.5 M302.08 350.5 V377.5 M306.5 350.5 V377.5 M310.92 350.5 V377.5 M315.33 350.5 V377.5 M319.75 350.5 V377.5 M324.17 350.5 V377.5 M328.58 350.5 V377.5 M333 350.5 V377.5" stroke="#000" stroke-width="1.06" opacity="0.85"/>
<rect x="338" y="350.5" width="4.01" height="27" rx="2.31" ry="2.2" fill="url(#gBlk)"/><rect x="342.61" y="350.5" width="4.01" height="27" rx="2.31" ry="2.2" fill="url(#gBlk)"/><rect x="347.23" y="350.5" width="4.01" height="27" rx="2.31" ry="2.2" fill="url(#gBlk)"/><rect x="351.84" y="350.5" width="4.01" height="27" rx="2.31" ry="2.2" fill="url(#gBlk)"/><rect x="356.45" y="350.5" width="4.01" height="27" rx="2.31" ry="2.2" fill="url(#gBlk)"/><rect x="361.06" y="350.5" width="4.01" height="27" rx="2.31" ry="2.2" fill="url(#gBlk)"/><rect x="365.68" y="350.5" width="4.01" height="27" rx="2.31" ry="2.2" fill="url(#gBlk)"/><rect x="370.29" y="350.5" width="4.01" height="27" rx="2.31" ry="2.2" fill="url(#gBlk)"/>
<path d="M337.7 350.5 V377.5 M342.31 350.5 V377.5 M346.93 350.5 V377.5 M351.54 350.5 V377.5 M356.15 350.5 V377.5 M360.76 350.5 V377.5 M365.38 350.5 V377.5 M369.99 350.5 V377.5 M374.6 350.5 V377.5" stroke="#000" stroke-width="1.11" opacity="0.85"/>
<rect x="381.8" y="350.5" width="3.71" height="27" rx="2.16" ry="2.2" fill="url(#gBlk)"/><rect x="386.11" y="350.5" width="3.71" height="27" rx="2.16" ry="2.2" fill="url(#gBlk)"/><rect x="390.43" y="350.5" width="3.71" height="27" rx="2.16" ry="2.2" fill="url(#gBlk)"/><rect x="394.74" y="350.5" width="3.71" height="27" rx="2.16" ry="2.2" fill="url(#gBlk)"/><rect x="399.05" y="350.5" width="3.71" height="27" rx="2.16" ry="2.2" fill="url(#gBlk)"/><rect x="403.36" y="350.5" width="3.71" height="27" rx="2.16" ry="2.2" fill="url(#gBlk)"/><rect x="407.68" y="350.5" width="3.71" height="27" rx="2.16" ry="2.2" fill="url(#gBlk)"/><rect x="411.99" y="350.5" width="3.71" height="27" rx="2.16" ry="2.2" fill="url(#gBlk)"/>
<path d="M381.5 350.5 V377.5 M385.81 350.5 V377.5 M390.12 350.5 V377.5 M394.44 350.5 V377.5 M398.75 350.5 V377.5 M403.06 350.5 V377.5 M407.38 350.5 V377.5 M411.69 350.5 V377.5 M416 350.5 V377.5" stroke="#000" stroke-width="1.03" opacity="0.85"/>
<rect x="423.3" y="350.5" width="3.73" height="27" rx="2.16" ry="2.2" fill="url(#gBlk)"/><rect x="427.62" y="350.5" width="3.73" height="27" rx="2.16" ry="2.2" fill="url(#gBlk)"/><rect x="431.95" y="350.5" width="3.73" height="27" rx="2.16" ry="2.2" fill="url(#gBlk)"/><rect x="436.28" y="350.5" width="3.73" height="27" rx="2.16" ry="2.2" fill="url(#gBlk)"/><rect x="440.6" y="350.5" width="3.73" height="27" rx="2.16" ry="2.2" fill="url(#gBlk)"/><rect x="444.93" y="350.5" width="3.73" height="27" rx="2.16" ry="2.2" fill="url(#gBlk)"/><rect x="449.25" y="350.5" width="3.73" height="27" rx="2.16" ry="2.2" fill="url(#gBlk)"/><rect x="453.58" y="350.5" width="3.73" height="27" rx="2.16" ry="2.2" fill="url(#gBlk)"/>
<path d="M423 350.5 V377.5 M427.32 350.5 V377.5 M431.65 350.5 V377.5 M435.98 350.5 V377.5 M440.3 350.5 V377.5 M444.62 350.5 V377.5 M448.95 350.5 V377.5 M453.28 350.5 V377.5 M457.6 350.5 V377.5" stroke="#000" stroke-width="1.04" opacity="0.85"/>
<rect x="464.9" y="350.5" width="3.97" height="27" rx="2.28" ry="2.2" fill="url(#gBlk)"/><rect x="469.47" y="350.5" width="3.97" height="27" rx="2.28" ry="2.2" fill="url(#gBlk)"/><rect x="474.03" y="350.5" width="3.97" height="27" rx="2.28" ry="2.2" fill="url(#gBlk)"/><rect x="478.6" y="350.5" width="3.97" height="27" rx="2.28" ry="2.2" fill="url(#gBlk)"/><rect x="483.17" y="350.5" width="3.97" height="27" rx="2.28" ry="2.2" fill="url(#gBlk)"/><rect x="487.73" y="350.5" width="3.97" height="27" rx="2.28" ry="2.2" fill="url(#gBlk)"/>
<path d="M464.6 350.5 V377.5 M469.17 350.5 V377.5 M473.73 350.5 V377.5 M478.3 350.5 V377.5 M482.87 350.5 V377.5 M487.43 350.5 V377.5 M492 350.5 V377.5" stroke="#000" stroke-width="1.1" opacity="0.85"/>
<rect x="514" y="347.6" width="40" height="32.8" fill="url(#gCol)"/>
<rect x="514.5" y="357.2" width="24.8" height="13" fill="url(#gWin)"/>
<rect x="539.6" y="359" width="12" height="6" fill="#444" opacity="0.8"/>
<path d="M554 352.2 L556.59 348.5 L557.16 348.5 L559.75 352.2 L562.34 348.5 L562.91 348.5 L565.5 352.2 L568.09 348.5 L568.66 348.5 L571.25 352.2 L573.84 348.5 L574.41 348.5 L577 352.2 L579.59 348.5 L580.16 348.5 L582.75 352.2 L585.34 348.5 L585.91 348.5 L588.5 352.2 L591.09 348.5 L591.66 348.5 L594.25 352.2 L596.84 348.5 L597.41 348.5 L600 352.2 L600 375.8 L597.82 379.5 L596.43 379.5 L594.25 375.8 L592.07 379.5 L590.68 379.5 L588.5 375.8 L586.32 379.5 L584.93 379.5 L582.75 375.8 L580.57 379.5 L579.18 379.5 L577 375.8 L574.82 379.5 L573.43 379.5 L571.25 375.8 L569.07 379.5 L567.68 379.5 L565.5 375.8 L563.32 379.5 L561.93 379.5 L559.75 375.8 L557.57 379.5 L556.18 379.5 L554 375.8Z" fill="#080808"/>
<path d="M554.29 355 L556.88 360 L559.46 355 M554.29 363 L556.88 368 L559.46 363 M554.29 369 L556.88 374 L559.46 369 M560.04 355 L562.62 360 L565.21 355 M560.04 363 L562.62 368 L565.21 363 M560.04 369 L562.62 374 L565.21 369 M565.79 355 L568.38 360 L570.96 355 M565.79 363 L568.38 368 L570.96 363 M565.79 369 L568.38 374 L570.96 369 M571.54 355 L574.12 360 L576.71 355 M571.54 363 L574.12 368 L576.71 363 M571.54 369 L574.12 374 L576.71 369 M577.29 355 L579.88 360 L582.46 355 M577.29 363 L579.88 368 L582.46 363 M577.29 369 L579.88 374 L582.46 369 M583.04 355 L585.62 360 L588.21 355 M583.04 363 L585.62 368 L588.21 363 M583.04 369 L585.62 374 L588.21 369 M588.79 355 L591.38 360 L593.96 355 M588.79 363 L591.38 368 L593.96 363 M588.79 369 L591.38 374 L593.96 369 M594.54 355 L597.12 360 L599.71 355 M594.54 363 L597.12 368 L599.71 363 M594.54 369 L597.12 374 L599.71 369 " stroke="#5a5a5a" stroke-width="1" fill="none"/>
<rect x="600" y="351.9" width="36" height="24.2" fill="url(#gShaft)"/>
<path d="M287 326.4 H543.7 V339.9" stroke="#000" stroke-width="1.9" stroke-dasharray="5.5 4.1" fill="none"/>
<text x="9.6" y="372" font-family="Liberation Sans" font-weight="bold" font-size="24.4" textLength="27.2" lengthAdjust="spacingAndGlyphs">04</text>
<text x="211.8" y="335.1" font-family="Liberation Sans" font-size="25.2" textLength="72" lengthAdjust="spacingAndGlyphs">40mm</text>
<rect x="13" y="425" width="302" height="300" fill="url(#gBlue)"/>
<ellipse cx="164" cy="572" rx="155" ry="58" fill="url(#gGlow)"/>
<g font-family="Liberation Sans" font-weight="bold" fill="#004a9a" opacity="0.22" stroke="#004a9a" stroke-width="3" stroke-linejoin="miter"><text x="14" y="470.5" font-size="57" textLength="293" lengthAdjust="spacingAndGlyphs">SUPER</text><text x="14" y="528" font-size="56" textLength="293" lengthAdjust="spacingAndGlyphs">STRONG</text></g>
<g font-family="Liberation Sans" font-weight="bold" fill="#041650" opacity="0.12" stroke="#041650" stroke-width="2.5"><text x="20" y="645" font-size="44" textLength="287" lengthAdjust="spacingAndGlyphs">NO BREAK</text><text x="20" y="724" font-size="83" textLength="287" lengthAdjust="spacingAndGlyphs">POINT</text></g>
<text y="487" font-family="Liberation Sans" font-size="14" fill="#fff" stroke="#fff" stroke-width="0.2" x="72.9 88.8 105.7 122.6 138.5">SUPER</text>
<text y="487" font-family="Liberation Sans" font-size="14" fill="#fff" stroke="#fff" stroke-width="0.2" x="175 192 208.2 224 242.7 261.4">STRONG</text>
<text y="660.5" font-family="Liberation Sans" font-size="14" fill="#fff" stroke="#fff" stroke-width="0.2" x="75.2 91.5">NO</text>
<text y="660.5" font-family="Liberation Sans" font-size="14" fill="#fff" stroke="#fff" stroke-width="0.2" x="117.5 132.8 147.3 161.5 176.8">BREAK</text>
<text y="660.5" font-family="Liberation Sans" font-size="14" fill="#fff" stroke="#fff" stroke-width="0.2" x="200.4 214 232.6 242.7 258">POINT</text>
<g transform="translate(35.4 537.9) scale(0.474 0.44) translate(-43.3 -260.6)"><path d="M43.3 260.6 C43.3 259 44.8 258.8 46.3 258.6 L104 252 L104 269.2 L46.3 262.6 C44.8 262.4 43.3 262.2 43.3 260.6Z" fill="url(#gSilH)"/>
<path d="M104 252 L121 250.2 L121 271 L104 269.2Z" fill="url(#gSilH)"/>
<ellipse cx="106.83" cy="260.6" rx="2.43" ry="10.1" fill="url(#gSilH)"/>
<rect x="109.17" y="251.7" width="1" height="17.8" fill="#000"/>
<ellipse cx="112.5" cy="260.6" rx="2.43" ry="10.7" fill="url(#gSilH)"/>
<rect x="114.83" y="251.1" width="1" height="19" fill="#000"/>
<ellipse cx="118.17" cy="260.6" rx="2.43" ry="11.3" fill="url(#gSilH)"/>
<rect x="120.5" y="250.5" width="1" height="20.2" fill="#000"/>
<path d="M121 250.2 Q170.72 248.4 231.5 248.4 L231.5 272.8 Q170.72 272.8 121 271Z" fill="url(#gSilH)"/>
<rect x="230.9" y="248.4" width="228.3" height="24.4" fill="url(#gSilH)"/>
<rect x="231.8" y="247.1" width="3.78" height="27" rx="2.19" ry="2.2" fill="url(#gSilH)"/><rect x="236.18" y="247.1" width="3.78" height="27" rx="2.19" ry="2.2" fill="url(#gSilH)"/><rect x="240.57" y="247.1" width="3.78" height="27" rx="2.19" ry="2.2" fill="url(#gSilH)"/><rect x="244.95" y="247.1" width="3.78" height="27" rx="2.19" ry="2.2" fill="url(#gSilH)"/><rect x="249.34" y="247.1" width="3.78" height="27" rx="2.19" ry="2.2" fill="url(#gSilH)"/><rect x="253.72" y="247.1" width="3.78" height="27" rx="2.19" ry="2.2" fill="url(#gSilH)"/><rect x="258.11" y="247.1" width="3.78" height="27" rx="2.19" ry="2.2" fill="url(#gSilH)"/><rect x="262.49" y="247.1" width="3.78" height="27" rx="2.19" ry="2.2" fill="url(#gSilH)"/><rect x="266.87" y="247.1" width="3.78" height="27" rx="2.19" ry="2.2" fill="url(#gSilH)"/><rect x="271.26" y="247.1" width="3.78" height="27" rx="2.19" ry="2.2" fill="url(#gSilH)"/><rect x="275.64" y="247.1" width="3.78" height="27" rx="2.19" ry="2.2" fill="url(#gSilH)"/><rect x="280.03" y="247.1" width="3.78" height="27" rx="2.19" ry="2.2" fill="url(#gSilH)"/><rect x="284.41" y="247.1" width="3.78" height="27" rx="2.19" ry="2.2" fill="url(#gSilH)"/><rect x="288.79" y="247.1" width="3.78" height="27" rx="2.19" ry="2.2" fill="url(#gSilH)"/><rect x="293.18" y="247.1" width="3.78" height="27" rx="2.19" ry="2.2" fill="url(#gSilH)"/><rect x="297.56" y="247.1" width="3.78" height="27" rx="2.19" ry="2.2" fill="url(#gSilH)"/><rect x="301.95" y="247.1" width="3.78" height="27" rx="2.19" ry="2.2" fill="url(#gSilH)"/><rect x="306.33" y="247.1" width="3.78" height="27" rx="2.19" ry="2.2" fill="url(#gSilH)"/><rect x="310.72" y="247.1" width="3.78" height="27" rx="2.19" ry="2.2" fill="url(#gSilH)"/>
<path d="M231.5 247.1 V274.1 M235.88 247.1 V274.1 M240.27 247.1 V274.1 M244.65 247.1 V274.1 M249.04 247.1 V274.1 M253.42 247.1 V274.1 M257.81 247.1 V274.1 M262.19 247.1 V274.1 M266.57 247.1 V274.1 M270.96 247.1 V274.1 M275.34 247.1 V274.1 M279.73 247.1 V274.1 M284.11 247.1 V274.1 M288.49 247.1 V274.1 M292.88 247.1 V274.1 M297.26 247.1 V274.1 M301.65 247.1 V274.1 M306.03 247.1 V274.1 M310.42 247.1 V274.1 M314.8 247.1 V274.1" stroke="#000" stroke-width="1.05" opacity="0.3"/>
<rect x="324.9" y="247.1" width="4.03" height="27" rx="2.31" ry="2.2" fill="url(#gSilH)"/><rect x="329.53" y="247.1" width="4.03" height="27" rx="2.31" ry="2.2" fill="url(#gSilH)"/><rect x="334.15" y="247.1" width="4.03" height="27" rx="2.31" ry="2.2" fill="url(#gSilH)"/><rect x="338.78" y="247.1" width="4.03" height="27" rx="2.31" ry="2.2" fill="url(#gSilH)"/><rect x="343.4" y="247.1" width="4.03" height="27" rx="2.31" ry="2.2" fill="url(#gSilH)"/><rect x="348.03" y="247.1" width="4.03" height="27" rx="2.31" ry="2.2" fill="url(#gSilH)"/><rect x="352.65" y="247.1" width="4.03" height="27" rx="2.31" ry="2.2" fill="url(#gSilH)"/><rect x="357.28" y="247.1" width="4.03" height="27" rx="2.31" ry="2.2" fill="url(#gSilH)"/>
<path d="M324.6 247.1 V274.1 M329.23 247.1 V274.1 M333.85 247.1 V274.1 M338.48 247.1 V274.1 M343.1 247.1 V274.1 M347.73 247.1 V274.1 M352.35 247.1 V274.1 M356.98 247.1 V274.1 M361.6 247.1 V274.1" stroke="#000" stroke-width="1.11" opacity="0.3"/>
<rect x="369.3" y="247.1" width="4.03" height="27" rx="2.31" ry="2.2" fill="url(#gSilH)"/><rect x="373.93" y="247.1" width="4.03" height="27" rx="2.31" ry="2.2" fill="url(#gSilH)"/><rect x="378.55" y="247.1" width="4.03" height="27" rx="2.31" ry="2.2" fill="url(#gSilH)"/><rect x="383.18" y="247.1" width="4.03" height="27" rx="2.31" ry="2.2" fill="url(#gSilH)"/><rect x="387.8" y="247.1" width="4.03" height="27" rx="2.31" ry="2.2" fill="url(#gSilH)"/><rect x="392.43" y="247.1" width="4.03" height="27" rx="2.31" ry="2.2" fill="url(#gSilH)"/><rect x="397.05" y="247.1" width="4.03" height="27" rx="2.31" ry="2.2" fill="url(#gSilH)"/><rect x="401.68" y="247.1" width="4.03" height="27" rx="2.31" ry="2.2" fill="url(#gSilH)"/>
<path d="M369 247.1 V274.1 M373.62 247.1 V274.1 M378.25 247.1 V274.1 M382.88 247.1 V274.1 M387.5 247.1 V274.1 M392.12 247.1 V274.1 M396.75 247.1 V274.1 M401.38 247.1 V274.1 M406 247.1 V274.1" stroke="#000" stroke-width="1.11" opacity="0.3"/>
<rect x="411.3" y="247.1" width="4.3" height="27" rx="2.45" ry="2.2" fill="url(#gSilH)"/><rect x="416.2" y="247.1" width="4.3" height="27" rx="2.45" ry="2.2" fill="url(#gSilH)"/><rect x="421.1" y="247.1" width="4.3" height="27" rx="2.45" ry="2.2" fill="url(#gSilH)"/><rect x="426" y="247.1" width="4.3" height="27" rx="2.45" ry="2.2" fill="url(#gSilH)"/><rect x="430.9" y="247.1" width="4.3" height="27" rx="2.45" ry="2.2" fill="url(#gSilH)"/>
<path d="M411 247.1 V274.1 M415.9 247.1 V274.1 M420.8 247.1 V274.1 M425.7 247.1 V274.1 M430.6 247.1 V274.1 M435.5 247.1 V274.1" stroke="#000" stroke-width="1.18" opacity="0.3"/>
<rect x="458.6" y="244.2" width="41.4" height="32.8" fill="url(#gSilH)"/>
<rect x="459.1" y="253.8" width="25.67" height="13" fill="url(#gSilW)"/>
<rect x="485.1" y="255.6" width="12.42" height="6" fill="#444" opacity="0.8"/>
<path d="M500 248.8 L502.48 245.1 L503.02 245.1 L505.5 248.8 L507.98 245.1 L508.52 245.1 L511 248.8 L513.48 245.1 L514.02 245.1 L516.5 248.8 L518.98 245.1 L519.52 245.1 L522 248.8 L524.48 245.1 L525.02 245.1 L527.5 248.8 L529.98 245.1 L530.52 245.1 L533 248.8 L535.48 245.1 L536.02 245.1 L538.5 248.8 L540.98 245.1 L541.52 245.1 L544 248.8 L544 272.4 L541.91 276.1 L540.59 276.1 L538.5 272.4 L536.41 276.1 L535.09 276.1 L533 272.4 L530.91 276.1 L529.59 276.1 L527.5 272.4 L525.41 276.1 L524.09 276.1 L522 272.4 L519.91 276.1 L518.59 276.1 L516.5 272.4 L514.41 276.1 L513.09 276.1 L511 272.4 L508.91 276.1 L507.59 276.1 L505.5 272.4 L503.41 276.1 L502.09 276.1 L500 272.4Z" fill="#6a6a6a"/>
<path d="M500.27 251.6 L502.75 256.6 L505.23 251.6 M500.27 259.6 L502.75 264.6 L505.23 259.6 M500.27 265.6 L502.75 270.6 L505.23 265.6 M505.77 251.6 L508.25 256.6 L510.73 251.6 M505.77 259.6 L508.25 264.6 L510.73 259.6 M505.77 265.6 L508.25 270.6 L510.73 265.6 M511.27 251.6 L513.75 256.6 L516.23 251.6 M511.27 259.6 L513.75 264.6 L516.23 259.6 M511.27 265.6 L513.75 270.6 L516.23 265.6 M516.77 251.6 L519.25 256.6 L521.73 251.6 M516.77 259.6 L519.25 264.6 L521.73 259.6 M516.77 265.6 L519.25 270.6 L521.73 265.6 M522.27 251.6 L524.75 256.6 L527.23 251.6 M522.27 259.6 L524.75 264.6 L527.23 259.6 M522.27 265.6 L524.75 270.6 L527.23 265.6 M527.77 251.6 L530.25 256.6 L532.73 251.6 M527.77 259.6 L530.25 264.6 L532.73 259.6 M527.77 265.6 L530.25 270.6 L532.73 265.6 M533.27 251.6 L535.75 256.6 L538.23 251.6 M533.27 259.6 L535.75 264.6 L538.23 259.6 M533.27 265.6 L535.75 270.6 L538.23 265.6 M538.77 251.6 L541.25 256.6 L543.73 251.6 M538.77 259.6 L541.25 264.6 L543.73 259.6 M538.77 265.6 L541.25 270.6 L543.73 265.6 " stroke="#d8d8d8" stroke-width="1" fill="none"/>
<rect x="544" y="248.5" width="38" height="24.2" fill="url(#gSilH)"/></g>
<g transform="translate(291 571.8) scale(-0.471 0.44) translate(-43.3 -260.6)"><path d="M43.3 260.6 C43.3 259 44.8 258.8 46.3 258.6 L104 252 L104 269.2 L46.3 262.6 C44.8 262.4 43.3 262.2 43.3 260.6Z" fill="url(#gCone)"/>
<path d="M104 252 L121 250.2 L121 271 L104 269.2Z" fill="url(#gBlk)"/>
<ellipse cx="106.83" cy="260.6" rx="2.43" ry="10.1" fill="url(#gBlk)"/>
<rect x="109.17" y="251.7" width="1" height="17.8" fill="#000"/>
<ellipse cx="112.5" cy="260.6" rx="2.43" ry="10.7" fill="url(#gBlk)"/>
<rect x="114.83" y="251.1" width="1" height="19" fill="#000"/>
<ellipse cx="118.17" cy="260.6" rx="2.43" ry="11.3" fill="url(#gBlk)"/>
<rect x="120.5" y="250.5" width="1" height="20.2" fill="#000"/>
<path d="M121 250.2 Q170.72 248.4 231.5 248.4 L231.5 272.8 Q170.72 272.8 121 271Z" fill="url(#gBlk)"/>
<rect x="230.9" y="248.4" width="228.3" height="24.4" fill="url(#gBlk)"/>
<rect x="231.8" y="247.1" width="3.78" height="27" rx="2.19" ry="2.2" fill="url(#gBlk)"/><rect x="236.18" y="247.1" width="3.78" height="27" rx="2.19" ry="2.2" fill="url(#gBlk)"/><rect x="240.57" y="247.1" width="3.78" height="27" rx="2.19" ry="2.2" fill="url(#gBlk)"/><rect x="244.95" y="247.1" width="3.78" height="27" rx="2.19" ry="2.2" fill="url(#gBlk)"/><rect x="249.34" y="247.1" width="3.78" height="27" rx="2.19" ry="2.2" fill="url(#gBlk)"/><rect x="253.72" y="247.1" width="3.78" height="27" rx="2.19" ry="2.2" fill="url(#gBlk)"/><rect x="258.11" y="247.1" width="3.78" height="27" rx="2.19" ry="2.2" fill="url(#gBlk)"/><rect x="262.49" y="247.1" width="3.78" height="27" rx="2.19" ry="2.2" fill="url(#gBlk)"/><rect x="266.87" y="247.1" width="3.78" height="27" rx="2.19" ry="2.2" fill="url(#gBlk)"/><rect x="271.26" y="247.1" width="3.78" height="27" rx="2.19" ry="2.2" fill="url(#gBlk)"/><rect x="275.64" y="247.1" width="3.78" height="27" rx="2.19" ry="2.2" fill="url(#gBlk)"/><rect x="280.03" y="247.1" width="3.78" height="27" rx="2.19" ry="2.2" fill="url(#gBlk)"/><rect x="284.41" y="247.1" width="3.78" height="27" rx="2.19" ry="2.2" fill="url(#gBlk)"/><rect x="288.79" y="247.1" width="3.78" height="27" rx="2.19" ry="2.2" fill="url(#gBlk)"/><rect x="293.18" y="247.1" width="3.78" height="27" rx="2.19" ry="2.2" fill="url(#gBlk)"/><rect x="297.56" y="247.1" width="3.78" height="27" rx="2.19" ry="2.2" fill="url(#gBlk)"/><rect x="301.95" y="247.1" width="3.78" height="27" rx="2.19" ry="2.2" fill="url(#gBlk)"/><rect x="306.33" y="247.1" width="3.78" height="27" rx="2.19" ry="2.2" fill="url(#gBlk)"/><rect x="310.72" y="247.1" width="3.78" height="27" rx="2.19" ry="2.2" fill="url(#gBlk)"/>
<path d="M231.5 247.1 V274.1 M235.88 247.1 V274.1 M240.27 247.1 V274.1 M244.65 247.1 V274.1 M249.04 247.1 V274.1 M253.42 247.1 V274.1 M257.81 247.1 V274.1 M262.19 247.1 V274.1 M266.57 247.1 V274.1 M270.96 247.1 V274.1 M275.34 247.1 V274.1 M279.73 247.1 V274.1 M284.11 247.1 V274.1 M288.49 247.1 V274.1 M292.88 247.1 V274.1 M297.26 247.1 V274.1 M301.65 247.1 V274.1 M306.03 247.1 V274.1 M310.42 247.1 V274.1 M314.8 247.1 V274.1" stroke="#000" stroke-width="1.05" opacity="0.4"/>
<rect x="324.9" y="247.1" width="4.03" height="27" rx="2.31" ry="2.2" fill="url(#gBlk)"/><rect x="329.53" y="247.1" width="4.03" height="27" rx="2.31" ry="2.2" fill="url(#gBlk)"/><rect x="334.15" y="247.1" width="4.03" height="27" rx="2.31" ry="2.2" fill="url(#gBlk)"/><rect x="338.78" y="247.1" width="4.03" height="27" rx="2.31" ry="2.2" fill="url(#gBlk)"/><rect x="343.4" y="247.1" width="4.03" height="27" rx="2.31" ry="2.2" fill="url(#gBlk)"/><rect x="348.03" y="247.1" width="4.03" height="27" rx="2.31" ry="2.2" fill="url(#gBlk)"/><rect x="352.65" y="247.1" width="4.03" height="27" rx="2.31" ry="2.2" fill="url(#gBlk)"/><rect x="357.28" y="247.1" width="4.03" height="27" rx="2.31" ry="2.2" fill="url(#gBlk)"/>
<path d="M324.6 247.1 V274.1 M329.23 247.1 V274.1 M333.85 247.1 V274.1 M338.48 247.1 V274.1 M343.1 247.1 V274.1 M347.73 247.1 V274.1 M352.35 247.1 V274.1 M356.98 247.1 V274.1 M361.6 247.1 V274.1" stroke="#000" stroke-width="1.11" opacity="0.4"/>
<rect x="369.3" y="247.1" width="4.03" height="27" rx="2.31" ry="2.2" fill="url(#gBlk)"/><rect x="373.93" y="247.1" width="4.03" height="27" rx="2.31" ry="2.2" fill="url(#gBlk)"/><rect x="378.55" y="247.1" width="4.03" height="27" rx="2.31" ry="2.2" fill="url(#gBlk)"/><rect x="383.18" y="247.1" width="4.03" height="27" rx="2.31" ry="2.2" fill="url(#gBlk)"/><rect x="387.8" y="247.1" width="4.03" height="27" rx="2.31" ry="2.2" fill="url(#gBlk)"/><rect x="392.43" y="247.1" width="4.03" height="27" rx="2.31" ry="2.2" fill="url(#gBlk)"/><rect x="397.05" y="247.1" width="4.03" height="27" rx="2.31" ry="2.2" fill="url(#gBlk)"/><rect x="401.68" y="247.1" width="4.03" height="27" rx="2.31" ry="2.2" fill="url(#gBlk)"/>
<path d="M369 247.1 V274.1 M373.62 247.1 V274.1 M378.25 247.1 V274.1 M382.88 247.1 V274.1 M387.5 247.1 V274.1 M392.12 247.1 V274.1 M396.75 247.1 V274.1 M401.38 247.1 V274.1 M406 247.1 V274.1" stroke="#000" stroke-width="1.11" opacity="0.4"/>
<rect x="411.3" y="247.1" width="4.3" height="27" rx="2.45" ry="2.2" fill="url(#gBlk)"/><rect x="416.2" y="247.1" width="4.3" height="27" rx="2.45" ry="2.2" fill="url(#gBlk)"/><rect x="421.1" y="247.1" width="4.3" height="27" rx="2.45" ry="2.2" fill="url(#gBlk)"/><rect x="426" y="247.1" width="4.3" height="27" rx="2.45" ry="2.2" fill="url(#gBlk)"/><rect x="430.9" y="247.1" width="4.3" height="27" rx="2.45" ry="2.2" fill="url(#gBlk)"/>
<path d="M411 247.1 V274.1 M415.9 247.1 V274.1 M420.8 247.1 V274.1 M425.7 247.1 V274.1 M430.6 247.1 V274.1 M435.5 247.1 V274.1" stroke="#000" stroke-width="1.18" opacity="0.4"/>
<rect x="458.6" y="244.2" width="41.4" height="32.8" fill="url(#gCol)"/>
<rect x="459.1" y="253.8" width="25.67" height="13" fill="url(#gWin)"/>
<rect x="485.1" y="255.6" width="12.42" height="6" fill="#444" opacity="0.8"/>
<path d="M500 248.8 L502.48 245.1 L503.02 245.1 L505.5 248.8 L507.98 245.1 L508.52 245.1 L511 248.8 L513.48 245.1 L514.02 245.1 L516.5 248.8 L518.98 245.1 L519.52 245.1 L522 248.8 L524.48 245.1 L525.02 245.1 L527.5 248.8 L529.98 245.1 L530.52 245.1 L533 248.8 L535.48 245.1 L536.02 245.1 L538.5 248.8 L540.98 245.1 L541.52 245.1 L544 248.8 L544 272.4 L541.91 276.1 L540.59 276.1 L538.5 272.4 L536.41 276.1 L535.09 276.1 L533 272.4 L530.91 276.1 L529.59 276.1 L527.5 272.4 L525.41 276.1 L524.09 276.1 L522 272.4 L519.91 276.1 L518.59 276.1 L516.5 272.4 L514.41 276.1 L513.09 276.1 L511 272.4 L508.91 276.1 L507.59 276.1 L505.5 272.4 L503.41 276.1 L502.09 276.1 L500 272.4Z" fill="#080808"/>
<path d="M500.27 251.6 L502.75 256.6 L505.23 251.6 M500.27 259.6 L502.75 264.6 L505.23 259.6 M500.27 265.6 L502.75 270.6 L505.23 265.6 M505.77 251.6 L508.25 256.6 L510.73 251.6 M505.77 259.6 L508.25 264.6 L510.73 259.6 M505.77 265.6 L508.25 270.6 L510.73 265.6 M511.27 251.6 L513.75 256.6 L516.23 251.6 M511.27 259.6 L513.75 264.6 L516.23 259.6 M511.27 265.6 L513.75 270.6 L516.23 265.6 M516.77 251.6 L519.25 256.6 L521.73 251.6 M516.77 259.6 L519.25 264.6 L521.73 259.6 M516.77 265.6 L519.25 270.6 L521.73 265.6 M522.27 251.6 L524.75 256.6 L527.23 251.6 M522.27 259.6 L524.75 264.6 L527.23 259.6 M522.27 265.6 L524.75 270.6 L527.23 265.6 M527.77 251.6 L530.25 256.6 L532.73 251.6 M527.77 259.6 L530.25 264.6 L532.73 259.6 M527.77 265.6 L530.25 270.6 L532.73 265.6 M533.27 251.6 L535.75 256.6 L538.23 251.6 M533.27 259.6 L535.75 264.6 L538.23 259.6 M533.27 265.6 L535.75 270.6 L538.23 265.6 M538.77 251.6 L541.25 256.6 L543.73 251.6 M538.77 259.6 L541.25 264.6 L543.73 259.6 M538.77 265.6 L541.25 270.6 L543.73 265.6 " stroke="#5a5a5a" stroke-width="1" fill="none"/>
<rect x="544" y="248.5" width="38" height="24.2" fill="url(#gShaft)"/></g>
<g transform="translate(33.8 604.5) scale(0.479 0.44) translate(-43.3 -260.6)"><path d="M43.3 260.6 C43.3 259 44.8 258.8 46.3 258.6 L104 252 L104 269.2 L46.3 262.6 C44.8 262.4 43.3 262.2 43.3 260.6Z" fill="url(#gGoldH)"/>
<path d="M104 252 L121 250.2 L121 271 L104 269.2Z" fill="url(#gGoldH)"/>
<ellipse cx="106.83" cy="260.6" rx="2.43" ry="10.1" fill="url(#gGoldH)"/>
<rect x="109.17" y="251.7" width="1" height="17.8" fill="#000"/>
<ellipse cx="112.5" cy="260.6" rx="2.43" ry="10.7" fill="url(#gGoldH)"/>
<rect x="114.83" y="251.1" width="1" height="19" fill="#000"/>
<ellipse cx="118.17" cy="260.6" rx="2.43" ry="11.3" fill="url(#gGoldH)"/>
<rect x="120.5" y="250.5" width="1" height="20.2" fill="#000"/>
<path d="M121 250.2 Q170.72 248.4 231.5 248.4 L231.5 272.8 Q170.72 272.8 121 271Z" fill="url(#gGoldH)"/>
<rect x="230.9" y="248.4" width="228.3" height="24.4" fill="url(#gGoldH)"/>
<rect x="231.8" y="247.1" width="3.78" height="27" rx="2.19" ry="2.2" fill="url(#gGoldH)"/><rect x="236.18" y="247.1" width="3.78" height="27" rx="2.19" ry="2.2" fill="url(#gGoldH)"/><rect x="240.57" y="247.1" width="3.78" height="27" rx="2.19" ry="2.2" fill="url(#gGoldH)"/><rect x="244.95" y="247.1" width="3.78" height="27" rx="2.19" ry="2.2" fill="url(#gGoldH)"/><rect x="249.34" y="247.1" width="3.78" height="27" rx="2.19" ry="2.2" fill="url(#gGoldH)"/><rect x="253.72" y="247.1" width="3.78" height="27" rx="2.19" ry="2.2" fill="url(#gGoldH)"/><rect x="258.11" y="247.1" width="3.78" height="27" rx="2.19" ry="2.2" fill="url(#gGoldH)"/><rect x="262.49" y="247.1" width="3.78" height="27" rx="2.19" ry="2.2" fill="url(#gGoldH)"/><rect x="266.87" y="247.1" width="3.78" height="27" rx="2.19" ry="2.2" fill="url(#gGoldH)"/><rect x="271.26" y="247.1" width="3.78" height="27" rx="2.19" ry="2.2" fill="url(#gGoldH)"/><rect x="275.64" y="247.1" width="3.78" height="27" rx="2.19" ry="2.2" fill="url(#gGoldH)"/><rect x="280.03" y="247.1" width="3.78" height="27" rx="2.19" ry="2.2" fill="url(#gGoldH)"/><rect x="284.41" y="247.1" width="3.78" height="27" rx="2.19" ry="2.2" fill="url(#gGoldH)"/><rect x="288.79" y="247.1" width="3.78" height="27" rx="2.19" ry="2.2" fill="url(#gGoldH)"/><rect x="293.18" y="247.1" width="3.78" height="27" rx="2.19" ry="2.2" fill="url(#gGoldH)"/><rect x="297.56" y="247.1" width="3.78" height="27" rx="2.19" ry="2.2" fill="url(#gGoldH)"/><rect x="301.95" y="247.1" width="3.78" height="27" rx="2.19" ry="2.2" fill="url(#gGoldH)"/><rect x="306.33" y="247.1" width="3.78" height="27" rx="2.19" ry="2.2" fill="url(#gGoldH)"/><rect x="310.72" y="247.1" width="3.78" height="27" rx="2.19" ry="2.2" fill="url(#gGoldH)"/>
<path d="M231.5 247.1 V274.1 M235.88 247.1 V274.1 M240.27 247.1 V274.1 M244.65 247.1 V274.1 M249.04 247.1 V274.1 M253.42 247.1 V274.1 M257.81 247.1 V274.1 M262.19 247.1 V274.1 M266.57 247.1 V274.1 M270.96 247.1 V274.1 M275.34 247.1 V274.1 M279.73 247.1 V274.1 M284.11 247.1 V274.1 M288.49 247.1 V274.1 M292.88 247.1 V274.1 M297.26 247.1 V274.1 M301.65 247.1 V274.1 M306.03 247.1 V274.1 M310.42 247.1 V274.1 M314.8 247.1 V274.1" stroke="#000" stroke-width="1.05" opacity="0.3"/>
<rect x="324.9" y="247.1" width="4.03" height="27" rx="2.31" ry="2.2" fill="url(#gGoldH)"/><rect x="329.53" y="247.1" width="4.03" height="27" rx="2.31" ry="2.2" fill="url(#gGoldH)"/><rect x="334.15" y="247.1" width="4.03" height="27" rx="2.31" ry="2.2" fill="url(#gGoldH)"/><rect x="338.78" y="247.1" width="4.03" height="27" rx="2.31" ry="2.2" fill="url(#gGoldH)"/><rect x="343.4" y="247.1" width="4.03" height="27" rx="2.31" ry="2.2" fill="url(#gGoldH)"/><rect x="348.03" y="247.1" width="4.03" height="27" rx="2.31" ry="2.2" fill="url(#gGoldH)"/><rect x="352.65" y="247.1" width="4.03" height="27" rx="2.31" ry="2.2" fill="url(#gGoldH)"/><rect x="357.28" y="247.1" width="4.03" height="27" rx="2.31" ry="2.2" fill="url(#gGoldH)"/>
<path d="M324.6 247.1 V274.1 M329.23 247.1 V274.1 M333.85 247.1 V274.1 M338.48 247.1 V274.1 M343.1 247.1 V274.1 M347.73 247.1 V274.1 M352.35 247.1 V274.1 M356.98 247.1 V274.1 M361.6 247.1 V274.1" stroke="#000" stroke-width="1.11" opacity="0.3"/>
<rect x="369.3" y="247.1" width="4.03" height="27" rx="2.31" ry="2.2" fill="url(#gGoldH)"/><rect x="373.93" y="247.1" width="4.03" height="27" rx="2.31" ry="2.2" fill="url(#gGoldH)"/><rect x="378.55" y="247.1" width="4.03" height="27" rx="2.31" ry="2.2" fill="url(#gGoldH)"/><rect x="383.18" y="247.1" width="4.03" height="27" rx="2.31" ry="2.2" fill="url(#gGoldH)"/><rect x="387.8" y="247.1" width="4.03" height="27" rx="2.31" ry="2.2" fill="url(#gGoldH)"/><rect x="392.43" y="247.1" width="4.03" height="27" rx="2.31" ry="2.2" fill="url(#gGoldH)"/><rect x="397.05" y="247.1" width="4.03" height="27" rx="2.31" ry="2.2" fill="url(#gGoldH)"/><rect x="401.68" y="247.1" width="4.03" height="27" rx="2.31" ry="2.2" fill="url(#gGoldH)"/>
<path d="M369 247.1 V274.1 M373.62 247.1 V274.1 M378.25 247.1 V274.1 M382.88 247.1 V274.1 M387.5 247.1 V274.1 M392.12 247.1 V274.1 M396.75 247.1 V274.1 M401.38 247.1 V274.1 M406 247.1 V274.1" stroke="#000" stroke-width="1.11" opacity="0.3"/>
<rect x="411.3" y="247.1" width="4.3" height="27" rx="2.45" ry="2.2" fill="url(#gGoldH)"/><rect x="416.2" y="247.1" width="4.3" height="27" rx="2.45" ry="2.2" fill="url(#gGoldH)"/><rect x="421.1" y="247.1" width="4.3" height="27" rx="2.45" ry="2.2" fill="url(#gGoldH)"/><rect x="426" y="247.1" width="4.3" height="27" rx="2.45" ry="2.2" fill="url(#gGoldH)"/><rect x="430.9" y="247.1" width="4.3" height="27" rx="2.45" ry="2.2" fill="url(#gGoldH)"/>
<path d="M411 247.1 V274.1 M415.9 247.1 V274.1 M420.8 247.1 V274.1 M425.7 247.1 V274.1 M430.6 247.1 V274.1 M435.5 247.1 V274.1" stroke="#000" stroke-width="1.18" opacity="0.3"/>
<rect x="458.6" y="244.2" width="41.4" height="32.8" fill="url(#gGoldH)"/>
<rect x="459.1" y="253.8" width="25.67" height="13" fill="url(#gGoldW)"/>
<rect x="485.1" y="255.6" width="12.42" height="6" fill="#444" opacity="0.8"/>
<path d="M500 248.8 L502.48 245.1 L503.02 245.1 L505.5 248.8 L507.98 245.1 L508.52 245.1 L511 248.8 L513.48 245.1 L514.02 245.1 L516.5 248.8 L518.98 245.1 L519.52 245.1 L522 248.8 L524.48 245.1 L525.02 245.1 L527.5 248.8 L529.98 245.1 L530.52 245.1 L533 248.8 L535.48 245.1 L536.02 245.1 L538.5 248.8 L540.98 245.1 L541.52 245.1 L544 248.8 L544 272.4 L541.91 276.1 L540.59 276.1 L538.5 272.4 L536.41 276.1 L535.09 276.1 L533 272.4 L530.91 276.1 L529.59 276.1 L527.5 272.4 L525.41 276.1 L524.09 276.1 L522 272.4 L519.91 276.1 L518.59 276.1 L516.5 272.4 L514.41 276.1 L513.09 276.1 L511 272.4 L508.91 276.1 L507.59 276.1 L505.5 272.4 L503.41 276.1 L502.09 276.1 L500 272.4Z" fill="#8a6c22"/>
<path d="M500.27 251.6 L502.75 256.6 L505.23 251.6 M500.27 259.6 L502.75 264.6 L505.23 259.6 M500.27 265.6 L502.75 270.6 L505.23 265.6 M505.77 251.6 L508.25 256.6 L510.73 251.6 M505.77 259.6 L508.25 264.6 L510.73 259.6 M505.77 265.6 L508.25 270.6 L510.73 265.6 M511.27 251.6 L513.75 256.6 L516.23 251.6 M511.27 259.6 L513.75 264.6 L516.23 259.6 M511.27 265.6 L513.75 270.6 L516.23 265.6 M516.77 251.6 L519.25 256.6 L521.73 251.6 M516.77 259.6 L519.25 264.6 L521.73 259.6 M516.77 265.6 L519.25 270.6 L521.73 265.6 M522.27 251.6 L524.75 256.6 L527.23 251.6 M522.27 259.6 L524.75 264.6 L527.23 259.6 M522.27 265.6 L524.75 270.6 L527.23 265.6 M527.77 251.6 L530.25 256.6 L532.73 251.6 M527.77 259.6 L530.25 264.6 L532.73 259.6 M527.77 265.6 L530.25 270.6 L532.73 265.6 M533.27 251.6 L535.75 256.6 L538.23 251.6 M533.27 259.6 L535.75 264.6 L538.23 259.6 M533.27 265.6 L535.75 270.6 L538.23 265.6 M538.77 251.6 L541.25 256.6 L543.73 251.6 M538.77 259.6 L541.25 264.6 L543.73 259.6 M538.77 265.6 L541.25 270.6 L543.73 265.6 " stroke="#e8cf80" stroke-width="1" fill="none"/>
<rect x="544" y="248.5" width="38" height="24.2" fill="url(#gGoldH)"/></g>
<rect x="332" y="426" width="300" height="32.5" fill="url(#gHdr)"/>
<text x="349.4" y="447.8" font-family="Liberation Sans" font-weight="bold" font-size="15" letter-spacing="0.25" fill="#fff">SUPER STRONG, NO BREAK POINT</text>
<rect x="520" y="460.5" width="111.5" height="265" fill="url(#gGray)"/>
<rect x="520" y="510.5" width="111.5" height="32.5" fill="#f3f4f6"/>
<g clip-path="url(#cGray)" fill="#f2f4f6"><path d="M590 543 Q612 560 614 612 Q614 660 596 680 L624 680 Q640 650 640 612 Q638 560 612 543 Z"/><rect x="518" y="645" width="90" height="35"/><path d="M518 622 L518 645 L553 680 L575 680 Z" fill="#dfe5ea"/><path d="M518 592 L518 622 L575 680 L608 680 Z"/></g>
<path d="M556 473.4 H597.5 Q604 481 604 492.5 Q604 504 597.5 511.6 H556 Q549 504 549 492.5 Q549 481 556 473.4 Z M559.5 481 Q556 486 556 492.8 Q556 499.5 559.5 504.6 H593 Q597 499.5 597 492.8 Q597 486 593 481 Z" fill="#141414" fill-rule="evenodd"/>
<path d="M571 487 L603.5 512.5 L595.5 513.5 Z" fill="#141414" stroke="#e6e8ec" stroke-width="1.5" stroke-linejoin="round"/>
<path d="M571 487 L603.5 512.5 L595.5 513.5 Z" fill="#141414"/>
<text x="552.9" y="522.4" font-family="Liberation Sans" font-size="8.4" textLength="47.4" lengthAdjust="spacingAndGlyphs" fill="#161616" stroke="#161616" stroke-width="0.35">QUICK</text>
<text x="552.9" y="529.8" font-family="Liberation Sans" font-weight="bold" font-size="5" textLength="48.5" lengthAdjust="spacingAndGlyphs" fill="#222">POINT SYSTEM</text>
<rect x="558" y="543.2" width="9" height="14.5" fill="url(#gSil)"/>
<rect x="556.2" y="557.3" width="12.6" height="17.3" fill="url(#gSilT)"/><rect x="555.9" y="558.2" width="13.2" height="1" rx="0.5" fill="#555" opacity="0.9"/><rect x="555.9" y="560.4" width="13.2" height="1" rx="0.5" fill="#555" opacity="0.9"/><rect x="555.9" y="562.6" width="13.2" height="1" rx="0.5" fill="#555" opacity="0.9"/><rect x="555.9" y="564.8" width="13.2" height="1" rx="0.5" fill="#555" opacity="0.9"/><rect x="555.9" y="567" width="13.2" height="1" rx="0.5" fill="#555" opacity="0.9"/><rect x="555.9" y="569.2" width="13.2" height="1" rx="0.5" fill="#555" opacity="0.9"/><rect x="555.9" y="571.4" width="13.2" height="1" rx="0.5" fill="#555" opacity="0.9"/><rect x="555.9" y="573.6" width="13.2" height="1" rx="0.5" fill="#555" opacity="0.9"/>
<rect x="556.5" y="574.6" width="12" height="16.2" fill="url(#gSil)"/>
<rect x="561" y="578" width="3.5" height="11" fill="#555" opacity="0.6"/>
<path d="M556.9 590.8 L568.1 590.8 Q567.5 675 563 709 L562 709 Q557.5 675 556.9 590.8 Z" fill="url(#gSil)"/>
<rect x="591.5" y="543.2" width="9" height="14.5" fill="url(#gBlkV)"/>
<rect x="589.7" y="557.3" width="12.6" height="17.3" fill="url(#gBlkV)"/><rect x="589.4" y="558.2" width="13.2" height="1" rx="0.5" fill="#000" opacity="0.9"/><rect x="589.4" y="560.4" width="13.2" height="1" rx="0.5" fill="#000" opacity="0.9"/><rect x="589.4" y="562.6" width="13.2" height="1" rx="0.5" fill="#000" opacity="0.9"/><rect x="589.4" y="564.8" width="13.2" height="1" rx="0.5" fill="#000" opacity="0.9"/><rect x="589.4" y="567" width="13.2" height="1" rx="0.5" fill="#000" opacity="0.9"/><rect x="589.4" y="569.2" width="13.2" height="1" rx="0.5" fill="#000" opacity="0.9"/><rect x="589.4" y="571.4" width="13.2" height="1" rx="0.5" fill="#000" opacity="0.9"/><rect x="589.4" y="573.6" width="13.2" height="1" rx="0.5" fill="#000" opacity="0.9"/>
<rect x="590" y="574.6" width="12" height="16.2" fill="url(#gBlkV)"/>
<rect x="594.5" y="578" width="3.5" height="11" fill="#000" opacity="0.6"/>
<path d="M590.4 590.8 L601.6 590.8 Q601 675 596.5 709 L595.5 709 Q591 675 590.4 590.8 Z" fill="url(#gBlkV)"/>
<path d="M341.5 490 Q345 479 379 479 Q413 479 417 492 L417 500 Q413 489 379 489 Q348 489 345 496 Z" fill="url(#gArrBack)"/>
<path d="M341.5 490 L345 496 L345 508 L341.5 503 Z" fill="#4f95dc"/>
<rect x="369.7" y="458.5" width="20.3" height="62" fill="url(#gRod)"/>
<path d="M357 499 Q380 501 403 497 Q417 494 417 492 L417 500 Q415 508 380 511.5 Q365 512 357 511 L357 514 L347.5 503 L357 493.5 Z" fill="url(#gArrFront)"/>
<path d="M366.8 537.3 L395.5 537.3 C404 545 413 562 414.6 584 L347 584 C348.5 562 357 545 366.8 537.3 Z" fill="url(#gNose)" stroke="#222" stroke-width="0.9"/>
<path d="M366.5 537.8 L396 537.8 L401 610 L359.5 610 Z" fill="#bcbcbc"/>
<path d="M366.5 537.8 L359.5 610 M396 537.8 L401 610" stroke="#777" stroke-width="1.3" stroke-dasharray="1 1.5"/>
<rect x="347" y="584" width="12.8" height="26" fill="#0d0d0d"/><rect x="400.5" y="584" width="14.1" height="26" fill="#0d0d0d"/>
<rect x="346.5" y="589.4" width="13.3" height="6" fill="#d8d8d8" stroke="#333" stroke-width="0.7"/><rect x="400.5" y="589.4" width="14.6" height="6" fill="#d8d8d8" stroke="#333" stroke-width="0.7"/>
<rect x="368.4" y="520" width="23" height="28.5" fill="#cfcfcf" stroke="#444" stroke-width="0.9"/>
<rect x="374.2" y="520" width="10.8" height="19.5" fill="#f4f4f4" stroke="#444" stroke-width="0.9"/>
<rect x="368.5" y="548.5" width="23" height="32" fill="#e8e8e8"/>
<path d="M368.5 550.5 Q380 552.5 391.5 550.5" stroke="#111" stroke-width="1.6" fill="none"/><path d="M368.5 553.7 Q380 555.7 391.5 553.7" stroke="#111" stroke-width="1.6" fill="none"/><path d="M368.5 556.9 Q380 558.9 391.5 556.9" stroke="#111" stroke-width="1.6" fill="none"/><path d="M368.5 560.1 Q380 562.1 391.5 560.1" stroke="#111" stroke-width="1.6" fill="none"/><path d="M368.5 563.3 Q380 565.3 391.5 563.3" stroke="#111" stroke-width="1.6" fill="none"/><path d="M368.5 566.5 Q380 568.5 391.5 566.5" stroke="#111" stroke-width="1.6" fill="none"/><path d="M368.5 569.7 Q380 571.7 391.5 569.7" stroke="#111" stroke-width="1.6" fill="none"/><path d="M368.5 572.9 Q380 574.9 391.5 572.9" stroke="#111" stroke-width="1.6" fill="none"/><path d="M368.5 576.1 Q380 578.1 391.5 576.1" stroke="#111" stroke-width="1.6" fill="none"/><path d="M368.5 579.3 Q380 581.3 391.5 579.3" stroke="#111" stroke-width="1.6" fill="none"/>
<rect x="371.5" y="580.5" width="17" height="26" fill="#f2f2f2" stroke="#444" stroke-width="0.9"/>
<rect x="351" y="610" width="58.3" height="112" fill="url(#gBar)"/>
<rect x="351" y="608.8" width="58.3" height="6" fill="#111" opacity="0.55"/>
<rect x="351" y="625.6" width="58.3" height="6" fill="#111" opacity="0.55"/>
<rect x="351" y="642.5" width="58.3" height="6" fill="#111" opacity="0.55"/>
<rect x="351" y="651" width="58.3" height="6" fill="#111" opacity="0.55"/>
<rect x="351" y="667.9" width="58.3" height="6" fill="#111" opacity="0.55"/>
<rect x="351" y="685.6" width="58.3" height="6" fill="#111" opacity="0.55"/>
<rect x="351" y="690.7" width="58.3" height="6" fill="#111" opacity="0.55"/>
<rect x="351" y="696.6" width="58.3" height="6" fill="#111" opacity="0.55"/>
<rect x="351" y="714.3" width="58.3" height="6" fill="#111" opacity="0.55"/>
<rect x="347.5" y="610.3" width="66" height="3" rx="1.4" fill="#d8d8d8" stroke="#1a1a1a" stroke-width="1.1"/>
<rect x="347.5" y="627.1" width="66" height="3" rx="1.4" fill="#d8d8d8" stroke="#1a1a1a" stroke-width="1.1"/>
<rect x="347.5" y="644" width="66" height="3" rx="1.4" fill="#d8d8d8" stroke="#1a1a1a" stroke-width="1.1"/>
<rect x="347.5" y="652.5" width="66" height="3" rx="1.4" fill="#d8d8d8" stroke="#1a1a1a" stroke-width="1.1"/>
<rect x="347.5" y="669.4" width="66" height="3" rx="1.4" fill="#d8d8d8" stroke="#1a1a1a" stroke-width="1.1"/>
<rect x="347.5" y="687.1" width="66" height="3" rx="1.4" fill="#d8d8d8" stroke="#1a1a1a" stroke-width="1.1"/>
<rect x="347.5" y="692.2" width="66" height="3" rx="1.4" fill="#d8d8d8" stroke="#1a1a1a" stroke-width="1.1"/>
<rect x="347.5" y="698.1" width="66" height="3" rx="1.4" fill="#d8d8d8" stroke="#1a1a1a" stroke-width="1.1"/>
<rect x="347.5" y="715.8" width="66" height="3" rx="1.4" fill="#d8d8d8" stroke="#1a1a1a" stroke-width="1.1"/>
<rect x="351" y="647.8" width="58.3" height="4.4" fill="#0d0d0d"/>
<rect x="351" y="719.5" width="58.3" height="6" fill="#0d0d0d"/>
<path d="M461.9 460 H472.8 L471.8 464.5 L472.3 514.6 L462.4 514.6 L462.9 464.5 Z" fill="#151515"/>
<path d="M463.6 466 V513 M470.9 466 V513" stroke="#5a5a5a" stroke-width="0.8"/>
<rect x="462.5" y="462.8" width="9.8" height="1.2" fill="#aaa"/>
<text transform="translate(469.3 509.7) rotate(-90)" font-family="Liberation Sans" font-weight="bold" font-size="4.4" textLength="35" lengthAdjust="spacingAndGlyphs" fill="#ddd">SUPERGRIP</text>
<rect x="461.6" y="514.6" width="12.2" height="96" fill="url(#gSB)"/>
<path d="M461.6 607 H473.8 Q473.8 614 469 617 H466.4 Q461.6 614 461.6 607 Z" fill="url(#gSB)"/>
<path d="M464.2 524 V602 M471.2 524 V602" stroke="#222" stroke-width="1.1" stroke-dasharray="1.6 1.2"/>
<rect x="461.6" y="514.25" width="12.2" height="4.5" fill="#111"/>
<rect x="461.6" y="520.1" width="12.2" height="2.2" fill="#111"/>
<rect x="461.6" y="544.4" width="12.2" height="2.8" fill="#111"/>
<rect x="461.6" y="560.4" width="12.2" height="3.6" fill="#111"/>
<rect x="461.6" y="566.9" width="12.2" height="1.2" fill="#111"/>
<rect x="461.6" y="571.9" width="12.2" height="1.4" fill="#111"/>
<rect x="461.6" y="574.5" width="12.2" height="3.6" fill="#111"/>
<rect x="461.6" y="594.3" width="12.2" height="1.4" fill="#111"/>
<rect x="461.6" y="601.2" width="12.2" height="3.6" fill="#111"/>
<rect x="461.6" y="608.5" width="12.2" height="1" fill="#111"/>
<rect x="463.5" y="515.5" width="2" height="2" fill="#ddd"/><rect x="469.5" y="515.5" width="2" height="2" fill="#ddd"/>
<rect x="466.4" y="619" width="2.6" height="30" fill="#222"/>
<path d="M457.5 626 Q457.5 621.6 467.7 621.6 Q478 621.6 478 626" fill="none" stroke="url(#gArrBack)" stroke-width="2.2"/>
<rect x="466.4" y="619" width="2.6" height="8" fill="#222"/>
<path d="M478 626 Q478 630.2 467.7 630.2 Q461 630.2 459.5 629" fill="none" stroke="url(#gArrFront)" stroke-width="2.2"/>
<path d="M456 627.5 L461 624 L461 632 Z" fill="#3a86d6"/>
<path d="M447.5 647.8 H486.5 Q492 647.8 495 652 Q501.5 661 501.5 672.5 Q501.5 685 494 694 Q491 697.5 487 697.5 H447 Q443 697.5 440 694 Q432.8 685 432.8 672.5 Q432.8 661 439 652 Q442 647.8 447.5 647.8 Z" fill="url(#gTool)"/>
<circle cx="466.2" cy="681.8" r="8.8" fill="#060608" stroke="#2a2a32" stroke-width="0.8"/>
<path d="M462 675.5 V688 M470.5 675.5 V688 M462 681.8 H470.5" stroke="#303038" stroke-width="2.2"/>
<text x="453" y="712" font-family="Liberation Sans" font-weight="bold" font-size="6.4" textLength="27" lengthAdjust="spacingAndGlyphs" fill="#111">CHANGE,</text>
<text x="440.7" y="719.8" font-family="Liberation Sans" font-weight="bold" font-size="6.4" textLength="52.9" lengthAdjust="spacingAndGlyphs" fill="#111">QUICK AND EASY.</text></svg>
</div></body></html>
